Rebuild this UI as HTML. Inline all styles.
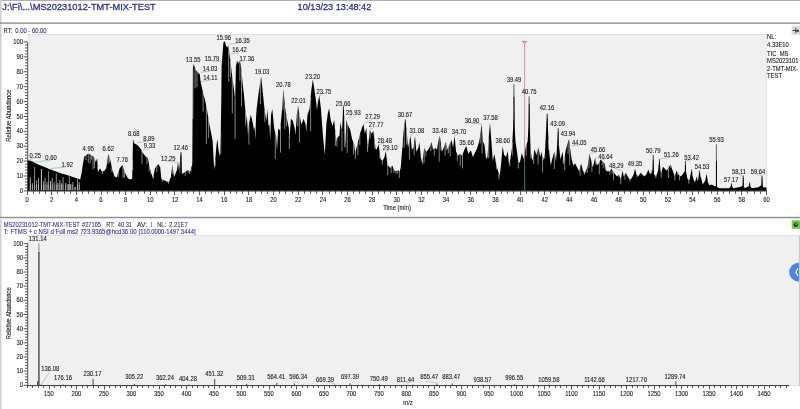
<!DOCTYPE html>
<html><head><meta charset="utf-8"><title>Chromatogram</title>
<style>html,body{margin:0;padding:0;background:#fff;width:800px;height:409px;overflow:hidden}svg{display:block}</style>
</head><body>
<svg width="800" height="409" viewBox="0 0 800 409">
<rect x="0" y="0" width="800" height="409" fill="#fff"/>
<rect x="0" y="0" width="800" height="0.9" fill="#a8a8a8"/>
<rect x="0" y="0" width="1.5" height="409" fill="#cfcfcf"/>
<rect x="0" y="22.4" width="800" height="1.4" fill="#8f8f8f"/>
<rect x="0" y="216.8" width="800" height="1.4" fill="#8f8f8f"/>
<rect x="0" y="218.2" width="800" height="1" fill="#e4e4e4"/>
<text x="2.3" y="10" font-size="9.6" textLength="153.5" lengthAdjust="spacingAndGlyphs" fill="#30309a" stroke="#30309a" stroke-width="0.3" font-family="'Liberation Sans', Arial, sans-serif">J:\Fi\...\MS20231012-TMT-MIX-TEST</text>
<text x="297.6" y="10" font-size="9.6" textLength="73.7" lengthAdjust="spacingAndGlyphs" fill="#30309a" stroke="#30309a" stroke-width="0.3" font-family="'Liberation Sans', Arial, sans-serif">10/13/23 13:48:42</text>
<text transform="translate(3.60,32.60) scale(0.93,1)" font-size="6.3" fill="#1a1a1a" font-family="'Liberation Sans', Arial, sans-serif" stroke="#1a1a1a" stroke-width="0.1">RT:</text>
<text transform="translate(15.30,32.60) scale(0.93,1)" font-size="6.3" fill="#30309a" font-family="'Liberation Sans', Arial, sans-serif" stroke="#30309a" stroke-width="0.1">0.00 - 60.00</text>
<rect x="28.2" y="34.4" width="738.6" height="156.4" fill="#f0f0f0" stroke="#dcdcdc" stroke-width="0.8"/>
<path d="M27.1,190.6 L27.2,160.2 L29.7,160.4 L33.1,161.8 L37.1,163.9 L41.2,165.7 L45.2,167.3 L49.2,169.0 L53.3,170.6 L57.3,172.0 L61.3,173.4 L65.4,174.6 L69.4,175.8 L73.5,177.2 L77.5,178.6 L80.2,179.5 L81.5,173.6 L82.9,164.2 L84.2,156.8 L87.5,154.1 L88.5,153.5 L90.6,154.7 L93.7,156.8 L95.8,162.0 L97.2,158.2 L97.9,172.4 L100.0,168.2 L101.6,171.3 L104.1,171.3 L106.2,168.2 L108.3,153.7 L110.3,159.9 L112.4,170.3 L114.5,176.5 L116.6,177.6 L119.7,168.2 L122.4,165.1 L124.9,172.4 L128.0,178.6 L130.7,179.6 L132.2,178.6 L133.0,139.1 L134.2,143.3 L137.4,144.9 L140.5,148.5 L142.6,152.6 L145.7,156.8 L147.8,157.8 L149.8,168.2 L153.0,178.6 L155.0,168.2 L158.2,164.0 L160.2,167.2 L161.3,178.6 L163.0,180.1 L169.0,182.1 L171.0,176.1 L172.4,165.1 L174.0,177.1 L177.0,170.1 L178.0,161.7 L179.0,170.0 L181.0,152.1 L182.0,174.1 L185.0,172.1 L188.0,170.1 L190.0,172.0 L192.3,164.1 L192.8,70.0 L193.6,64.0 L194.8,67.3 L195.8,70.2 L197.1,71.2 L198.3,73.2 L199.7,74.1 L200.7,82.0 L202.9,92.3 L204.8,99.0 L206.8,108.4 L209.4,124.5 L212.6,140.6 L213.5,156.8 L214.2,169.7 L215.2,160.0 L216.5,145.0 L217.4,139.0 L218.5,150.0 L219.7,156.8 L220.8,130.0 L221.3,100.0 L221.6,66.6 L223.4,42.4 L224.9,41.3 L226.1,46.0 L227.1,46.8 L228.0,47.0 L228.6,44.6 L229.3,53.4 L230.4,60.0 L231.5,71.0 L233.0,82.0 L234.4,93.0 L235.2,99.6 L235.9,66.6 L237.0,61.1 L238.8,63.3 L239.9,60.0 L241.0,66.6 L242.5,82.0 L244.0,95.2 L245.4,110.6 L245.5,128.0 L246.8,114.8 L248.0,135.0 L248.8,124.6 L250.8,114.8 L252.7,122.6 L254.0,130.0 L254.7,126.5 L255.3,140.0 L256.0,118.0 L256.6,109.0 L258.6,93.3 L261.1,76.6 L262.5,89.4 L264.5,109.0 L266.4,120.7 L267.4,109.0 L268.5,126.0 L269.4,124.6 L270.2,140.0 L271.0,115.0 L272.3,109.0 L274.2,128.5 L276.2,136.3 L277.0,150.0 L278.2,128.5 L280.1,130.4 L282.1,109.0 L283.4,89.0 L285.0,107.0 L287.0,118.7 L288.9,128.5 L289.5,140.0 L290.9,118.7 L292.8,120.7 L294.8,128.5 L295.5,135.0 L296.8,114.8 L298.1,105.4 L299.7,116.8 L301.6,124.6 L303.6,118.7 L305.6,124.6 L306.2,132.0 L307.5,114.8 L309.5,109.0 L311.4,89.4 L312.8,79.6 L314.4,89.4 L316.3,103.0 L316.9,110.0 L317.9,102.4 L319.3,95.5 L320.9,108.3 L322.8,133.7 L324.8,155.0 L326.4,123.9 L327.7,114.1 L329.1,108.3 L330.7,120.0 L332.6,125.9 L334.2,120.0 L335.5,133.7 L336.5,141.4 L337.5,137.6 L339.5,135.7 L340.4,122.0 L342.0,131.8 L343.4,106.3 L344.4,118.0 L345.3,150.0 L346.3,120.0 L348.3,125.9 L350.2,129.8 L352.2,139.6 L354.1,143.5 L355.1,153.1 L356.1,149.4 L358.1,141.5 L360.0,133.7 L362.0,127.8 L363.5,123.9 L364.9,133.7 L366.3,127.8 L367.8,150.0 L369.8,129.8 L371.8,133.7 L373.3,130.8 L374.7,141.5 L375.7,149.2 L376.6,149.4 L378.6,144.5 L380.6,159.0 L382.5,160.9 L384.5,157.0 L385.8,151.1 L387.4,164.8 L390.3,168.0 L392.3,165.4 L393.9,170.0 L395.9,171.3 L397.8,170.3 L399.8,171.3 L400.8,167.4 L402.1,149.8 L403.7,130.2 L405.3,119.5 L406.6,130.2 L408.0,147.8 L409.6,140.0 L410.5,136.1 L411.9,149.8 L413.5,147.8 L415.0,136.1 L416.4,151.8 L418.4,147.8 L419.4,142.0 L420.9,157.6 L422.3,163.5 L424.2,147.8 L426.2,151.8 L428.2,149.8 L430.1,145.9 L431.5,142.0 L433.1,149.8 L435.0,147.8 L437.0,149.8 L438.5,140.0 L439.9,136.1 L441.9,151.8 L443.8,147.8 L445.8,142.0 L447.7,149.8 L449.7,144.0 L451.6,140.0 L453.0,147.8 L454.6,136.1 L456.1,151.8 L458.1,155.7 L460.1,153.7 L462.0,155.7 L464.4,149.8 L466.3,145.9 L468.3,153.7 L468.9,153.0 L470.9,150.2 L472.8,157.0 L474.8,153.0 L476.7,149.2 L478.7,143.3 L480.3,135.5 L481.6,123.7 L483.0,141.4 L484.6,145.3 L486.1,159.0 L487.5,157.0 L488.9,135.5 L490.0,122.8 L491.4,141.4 L492.8,160.9 L494.4,154.0 L495.9,162.9 L497.9,170.7 L499.8,175.6 L501.2,162.9 L502.6,146.2 L504.1,155.0 L506.1,157.0 L507.7,151.1 L509.0,164.8 L510.4,159.0 L512.0,147.2 L513.3,125.0 L513.9,83.5 L514.5,125.0 L515.5,141.4 L516.9,151.0 L518.2,160.9 L519.8,162.9 L521.8,153.1 L523.7,159.0 L525.7,147.2 L527.6,141.4 L528.7,125.0 L529.2,96.2 L529.8,125.0 L530.6,151.1 L532.5,160.9 L534.5,149.2 L536.4,155.0 L538.4,147.2 L540.3,157.0 L541.6,151.8 L542.9,161.0 L544.9,153.7 L545.9,134.1 L547.2,113.6 L548.2,134.1 L549.4,153.7 L550.8,165.5 L552.1,159.6 L553.7,153.7 L554.7,151.8 L556.0,161.5 L557.2,143.9 L558.2,128.3 L559.2,147.8 L560.5,159.6 L562.5,151.8 L563.9,163.5 L565.4,151.8 L567.4,143.9 L569.0,139.0 L570.3,149.8 L571.7,159.6 L573.3,165.5 L575.2,163.5 L577.2,167.4 L579.1,171.3 L581.1,163.5 L583.1,171.3 L585.0,173.3 L587.9,165.5 L589.3,153.7 L590.9,159.6 L592.8,167.4 L595.2,157.6 L596.8,165.5 L598.7,163.5 L600.7,159.6 L602.6,161.5 L604.6,163.5 L606.5,171.3 L609.5,171.3 L611.4,168.4 L614.4,173.3 L617.0,176.6 L618.9,174.6 L620.9,179.5 L622.4,170.7 L623.8,176.6 L625.8,172.7 L627.7,176.6 L629.7,179.5 L631.6,178.5 L633.6,174.6 L635.0,168.8 L636.5,174.6 L638.5,176.6 L640.4,172.7 L642.4,174.6 L644.4,176.6 L646.3,174.6 L648.3,169.7 L650.2,174.6 L651.8,170.7 L652.6,170.0 L653.2,155.0 L653.8,170.0 L654.1,174.6 L656.1,176.6 L658.1,170.7 L659.4,159.0 L661.0,174.6 L662.9,166.8 L664.9,168.8 L666.9,170.7 L668.8,166.8 L670.8,164.8 L672.7,170.7 L674.7,176.6 L676.6,170.7 L678.6,174.6 L680.6,176.6 L682.5,174.6 L684.9,171.0 L685.4,160.9 L685.9,171.0 L687.4,178.5 L689.4,180.5 L691.7,168.8 L693.3,178.5 L694.9,182.4 L696.8,176.6 L698.2,180.5 L699.4,170.7 L700.8,176.6 L702.7,184.4 L705.3,180.5 L706.6,173.6 L708.0,182.4 L709.6,185.4 L711.5,184.4 L713.5,185.4 L715.4,186.4 L716.0,186.0 L716.4,144.3 L716.8,186.0 L717.4,187.3 L719.4,188.3 L729.1,188.3 L731.0,186.0 L731.5,183.4 L732.0,186.0 L733.1,188.3 L738.9,187.3 L742.7,186.0 L743.2,175.6 L743.7,186.0 L744.8,188.3 L749.2,186.0 L749.7,182.4 L750.2,186.0 L751.6,188.3 L758.5,187.3 L761.5,185.0 L762.0,175.6 L762.5,185.0 L763.4,187.3 L766.5,187.5 L766.5,190.6 Z" fill="#000"/>
<rect x="29.8" y="177.6" width="1" height="12.8" fill="#b0b0b0"/>
<rect x="29.8" y="184.5" width="1" height="5.9" fill="#f4f4f4" opacity="0.35"/>
<rect x="31.9" y="183.0" width="1" height="7.4" fill="#7a7a7a"/>
<rect x="31.9" y="184.5" width="1" height="5.9" fill="#f4f4f4" opacity="0.35"/>
<rect x="34.1" y="167.0" width="1" height="23.4" fill="#8a8a8a"/>
<rect x="34.1" y="184.5" width="1" height="5.9" fill="#f4f4f4" opacity="0.35"/>
<rect x="36.0" y="180.0" width="1" height="10.4" fill="#7a7a7a"/>
<rect x="36.0" y="184.5" width="1" height="5.9" fill="#f4f4f4" opacity="0.35"/>
<rect x="38.0" y="178.0" width="1" height="12.4" fill="#9a9a9a"/>
<rect x="38.0" y="184.5" width="1" height="5.9" fill="#f4f4f4" opacity="0.35"/>
<rect x="40.9" y="169.0" width="1" height="21.4" fill="#c8c8c8"/>
<rect x="40.9" y="184.5" width="1" height="5.9" fill="#f4f4f4" opacity="0.35"/>
<rect x="43.0" y="181.0" width="1" height="9.4" fill="#7a7a7a"/>
<rect x="43.0" y="184.5" width="1" height="5.9" fill="#f4f4f4" opacity="0.35"/>
<rect x="44.5" y="178.0" width="1" height="12.4" fill="#9a9a9a"/>
<rect x="44.5" y="184.5" width="1" height="5.9" fill="#f4f4f4" opacity="0.35"/>
<rect x="46.5" y="182.0" width="1" height="8.4" fill="#8a8a8a"/>
<rect x="46.5" y="184.5" width="1" height="5.9" fill="#f4f4f4" opacity="0.35"/>
<rect x="48.1" y="171.3" width="1" height="19.1" fill="#8a8a8a"/>
<rect x="48.1" y="184.5" width="1" height="5.9" fill="#f4f4f4" opacity="0.35"/>
<rect x="50.0" y="181.0" width="1" height="9.4" fill="#a8a8a8"/>
<rect x="50.0" y="184.5" width="1" height="5.9" fill="#f4f4f4" opacity="0.35"/>
<rect x="51.7" y="178.0" width="1" height="12.4" fill="#9a9a9a"/>
<rect x="51.7" y="184.5" width="1" height="5.9" fill="#f4f4f4" opacity="0.35"/>
<rect x="53.7" y="182.0" width="1" height="8.4" fill="#7a7a7a"/>
<rect x="53.7" y="184.5" width="1" height="5.9" fill="#f4f4f4" opacity="0.35"/>
<rect x="55.8" y="173.3" width="1" height="17.1" fill="#8a8a8a"/>
<rect x="55.8" y="184.5" width="1" height="5.9" fill="#f4f4f4" opacity="0.35"/>
<rect x="57.4" y="183.0" width="1" height="7.4" fill="#9a9a9a"/>
<rect x="57.4" y="184.5" width="1" height="5.9" fill="#f4f4f4" opacity="0.35"/>
<rect x="59.4" y="180.0" width="1" height="10.4" fill="#a8a8a8"/>
<rect x="59.4" y="184.5" width="1" height="5.9" fill="#f4f4f4" opacity="0.35"/>
<rect x="61.0" y="183.0" width="1" height="7.4" fill="#7a7a7a"/>
<rect x="61.0" y="184.5" width="1" height="5.9" fill="#f4f4f4" opacity="0.35"/>
<rect x="62.5" y="177.0" width="1" height="13.4" fill="#9a9a9a"/>
<rect x="62.5" y="184.5" width="1" height="5.9" fill="#f4f4f4" opacity="0.35"/>
<rect x="65.2" y="183.0" width="1" height="7.4" fill="#b0b0b0"/>
<rect x="65.2" y="184.5" width="1" height="5.9" fill="#f4f4f4" opacity="0.35"/>
<rect x="67.6" y="184.0" width="1" height="6.4" fill="#c0c0c0"/>
<rect x="67.6" y="184.5" width="1" height="5.9" fill="#f4f4f4" opacity="0.35"/>
<rect x="68.8" y="176.0" width="1" height="14.4" fill="#8a8a8a"/>
<rect x="68.8" y="184.5" width="1" height="5.9" fill="#f4f4f4" opacity="0.35"/>
<rect x="70.3" y="184.0" width="1" height="6.4" fill="#9a9a9a"/>
<rect x="70.3" y="184.5" width="1" height="5.9" fill="#f4f4f4" opacity="0.35"/>
<rect x="72.3" y="182.0" width="1" height="8.4" fill="#8a8a8a"/>
<rect x="72.3" y="184.5" width="1" height="5.9" fill="#f4f4f4" opacity="0.35"/>
<rect x="74.6" y="187.0" width="1" height="3.4" fill="#c0c0c0"/>
<rect x="74.6" y="187.0" width="1" height="3.4" fill="#f4f4f4" opacity="0.35"/>
<rect x="77.0" y="178.0" width="1" height="12.4" fill="#8a8a8a"/>
<rect x="77.0" y="184.5" width="1" height="5.9" fill="#f4f4f4" opacity="0.35"/>
<rect x="78.7" y="182.0" width="1" height="8.4" fill="#9a9a9a"/>
<rect x="78.7" y="184.5" width="1" height="5.9" fill="#f4f4f4" opacity="0.35"/>
<line x1="86.0" y1="154.8" x2="86.0" y2="160.3" stroke="#f0f0f0" stroke-width="0.55"/>
<line x1="88.3" y1="153.1" x2="88.3" y2="163.1" stroke="#f0f0f0" stroke-width="0.55"/>
<line x1="90.2" y1="154.0" x2="90.2" y2="163.4" stroke="#f0f0f0" stroke-width="0.55"/>
<line x1="91.6" y1="154.9" x2="91.6" y2="159.8" stroke="#f0f0f0" stroke-width="0.55"/>
<line x1="93.0" y1="155.8" x2="93.0" y2="169.5" stroke="#f0f0f0" stroke-width="0.55"/>
<line x1="94.5" y1="158.4" x2="94.5" y2="168.2" stroke="#f0f0f0" stroke-width="0.55"/>
<line x1="102.4" y1="170.8" x2="102.4" y2="173.9" stroke="#f0f0f0" stroke-width="0.55"/>
<line x1="108.1" y1="154.4" x2="108.1" y2="164.3" stroke="#f0f0f0" stroke-width="0.55"/>
<line x1="109.5" y1="157.0" x2="109.5" y2="162.6" stroke="#f0f0f0" stroke-width="0.55"/>
<line x1="111.9" y1="167.4" x2="111.9" y2="172.0" stroke="#f0f0f0" stroke-width="0.55"/>
<line x1="118.3" y1="171.8" x2="118.3" y2="177.3" stroke="#f0f0f0" stroke-width="0.55"/>
<line x1="123.0" y1="166.2" x2="123.0" y2="177.7" stroke="#f0f0f0" stroke-width="0.55"/>
<line x1="124.4" y1="170.6" x2="124.4" y2="177.9" stroke="#f0f0f0" stroke-width="0.55"/>
<line x1="132.6" y1="159.6" x2="132.6" y2="170.0" stroke="#f0f0f0" stroke-width="0.55"/>
<line x1="142.0" y1="151.0" x2="142.0" y2="164.2" stroke="#f0f0f0" stroke-width="0.55"/>
<line x1="147.0" y1="156.9" x2="147.0" y2="164.2" stroke="#f0f0f0" stroke-width="0.55"/>
<line x1="149.3" y1="165.4" x2="149.3" y2="171.5" stroke="#f0f0f0" stroke-width="0.55"/>
<line x1="150.9" y1="171.3" x2="150.9" y2="174.2" stroke="#f0f0f0" stroke-width="0.55"/>
<line x1="153.4" y1="175.8" x2="153.4" y2="178.6" stroke="#f0f0f0" stroke-width="0.55"/>
<line x1="156.8" y1="165.3" x2="156.8" y2="172.3" stroke="#f0f0f0" stroke-width="0.55"/>
<line x1="162.2" y1="178.9" x2="162.2" y2="181.8" stroke="#f0f0f0" stroke-width="0.55"/>
<line x1="166.9" y1="180.9" x2="166.9" y2="182.7" stroke="#f0f0f0" stroke-width="0.55"/>
<line x1="168.6" y1="181.5" x2="168.6" y2="184.0" stroke="#f0f0f0" stroke-width="0.55"/>
<line x1="170.8" y1="176.1" x2="170.8" y2="178.3" stroke="#f0f0f0" stroke-width="0.55"/>
<line x1="172.8" y1="167.5" x2="172.8" y2="174.1" stroke="#f0f0f0" stroke-width="0.55"/>
<line x1="180.1" y1="159.5" x2="180.1" y2="172.8" stroke="#f0f0f0" stroke-width="0.55"/>
<line x1="185.2" y1="171.4" x2="185.2" y2="175.8" stroke="#f0f0f0" stroke-width="0.55"/>
<line x1="188.1" y1="169.7" x2="188.1" y2="173.3" stroke="#f0f0f0" stroke-width="0.55"/>
<line x1="189.7" y1="171.2" x2="189.7" y2="174.0" stroke="#f0f0f0" stroke-width="0.55"/>
<line x1="191.0" y1="168.2" x2="191.0" y2="171.5" stroke="#f0f0f0" stroke-width="0.55"/>
<line x1="192.9" y1="69.1" x2="192.9" y2="118.8" stroke="#f0f0f0" stroke-width="0.55"/>
<line x1="195.1" y1="67.8" x2="195.1" y2="88.4" stroke="#f0f0f0" stroke-width="0.55"/>
<line x1="197.0" y1="70.6" x2="197.0" y2="87.3" stroke="#f0f0f0" stroke-width="0.55"/>
<line x1="203.1" y1="92.6" x2="203.1" y2="111.7" stroke="#f0f0f0" stroke-width="0.55"/>
<line x1="206.4" y1="106.1" x2="206.4" y2="143.9" stroke="#f0f0f0" stroke-width="0.55"/>
<line x1="208.6" y1="118.8" x2="208.6" y2="137.8" stroke="#f0f0f0" stroke-width="0.55"/>
<line x1="215.2" y1="159.7" x2="215.2" y2="166.2" stroke="#f0f0f0" stroke-width="0.55"/>
<line x1="220.7" y1="131.3" x2="220.7" y2="153.9" stroke="#f0f0f0" stroke-width="0.55"/>
<line x1="228.7" y1="45.1" x2="228.7" y2="81.9" stroke="#f0f0f0" stroke-width="0.55"/>
<line x1="230.5" y1="61.0" x2="230.5" y2="77.2" stroke="#f0f0f0" stroke-width="0.55"/>
<line x1="232.3" y1="76.3" x2="232.3" y2="113.4" stroke="#f0f0f0" stroke-width="0.55"/>
<line x1="235.1" y1="98.5" x2="235.1" y2="139.1" stroke="#f0f0f0" stroke-width="0.55"/>
<line x1="239.9" y1="59.5" x2="239.9" y2="80.6" stroke="#f0f0f0" stroke-width="0.55"/>
<line x1="241.5" y1="71.3" x2="241.5" y2="106.5" stroke="#f0f0f0" stroke-width="0.55"/>
<line x1="248.9" y1="123.7" x2="248.9" y2="144.6" stroke="#f0f0f0" stroke-width="0.55"/>
<line x1="260.4" y1="80.7" x2="260.4" y2="104.0" stroke="#f0f0f0" stroke-width="0.55"/>
<line x1="264.8" y1="110.4" x2="264.8" y2="122.1" stroke="#f0f0f0" stroke-width="0.55"/>
<line x1="275.3" y1="132.4" x2="275.3" y2="159.1" stroke="#f0f0f0" stroke-width="0.55"/>
<line x1="280.5" y1="126.1" x2="280.5" y2="152.5" stroke="#f0f0f0" stroke-width="0.55"/>
<line x1="283.1" y1="93.4" x2="283.1" y2="109.8" stroke="#f0f0f0" stroke-width="0.55"/>
<line x1="284.8" y1="104.8" x2="284.8" y2="128.9" stroke="#f0f0f0" stroke-width="0.55"/>
<line x1="286.6" y1="115.6" x2="286.6" y2="126.3" stroke="#f0f0f0" stroke-width="0.55"/>
<line x1="289.3" y1="136.1" x2="289.3" y2="148.9" stroke="#f0f0f0" stroke-width="0.55"/>
<line x1="297.8" y1="107.3" x2="297.8" y2="126.2" stroke="#f0f0f0" stroke-width="0.55"/>
<line x1="299.4" y1="113.9" x2="299.4" y2="142.6" stroke="#f0f0f0" stroke-width="0.55"/>
<line x1="310.6" y1="97.4" x2="310.6" y2="131.1" stroke="#f0f0f0" stroke-width="0.55"/>
<line x1="335.4" y1="132.5" x2="335.4" y2="145.8" stroke="#f0f0f0" stroke-width="0.55"/>
<line x1="336.9" y1="139.6" x2="336.9" y2="146.5" stroke="#f0f0f0" stroke-width="0.55"/>
<line x1="342.0" y1="131.0" x2="342.0" y2="151.2" stroke="#f0f0f0" stroke-width="0.55"/>
<line x1="344.3" y1="116.5" x2="344.3" y2="147.2" stroke="#f0f0f0" stroke-width="0.55"/>
<line x1="347.2" y1="122.0" x2="347.2" y2="152.9" stroke="#f0f0f0" stroke-width="0.55"/>
<line x1="353.5" y1="141.9" x2="353.5" y2="154.4" stroke="#f0f0f0" stroke-width="0.55"/>
<line x1="355.4" y1="151.6" x2="355.4" y2="159.1" stroke="#f0f0f0" stroke-width="0.55"/>
<line x1="357.8" y1="142.0" x2="357.8" y2="155.2" stroke="#f0f0f0" stroke-width="0.55"/>
<line x1="359.8" y1="133.8" x2="359.8" y2="144.9" stroke="#f0f0f0" stroke-width="0.55"/>
<line x1="367.6" y1="146.1" x2="367.6" y2="152.0" stroke="#f0f0f0" stroke-width="0.55"/>
<line x1="370.1" y1="129.9" x2="370.1" y2="138.6" stroke="#f0f0f0" stroke-width="0.55"/>
<line x1="374.7" y1="141.0" x2="374.7" y2="148.4" stroke="#f0f0f0" stroke-width="0.55"/>
<line x1="379.9" y1="153.4" x2="379.9" y2="158.5" stroke="#f0f0f0" stroke-width="0.55"/>
<line x1="382.3" y1="160.2" x2="382.3" y2="164.5" stroke="#f0f0f0" stroke-width="0.55"/>
<line x1="387.7" y1="164.6" x2="387.7" y2="175.2" stroke="#f0f0f0" stroke-width="0.55"/>
<line x1="391.1" y1="166.4" x2="391.1" y2="173.2" stroke="#f0f0f0" stroke-width="0.55"/>
<line x1="393.9" y1="169.5" x2="393.9" y2="172.8" stroke="#f0f0f0" stroke-width="0.55"/>
<line x1="396.0" y1="170.7" x2="396.0" y2="173.8" stroke="#f0f0f0" stroke-width="0.55"/>
<line x1="397.6" y1="169.9" x2="397.6" y2="173.5" stroke="#f0f0f0" stroke-width="0.55"/>
<line x1="399.4" y1="170.6" x2="399.4" y2="178.0" stroke="#f0f0f0" stroke-width="0.55"/>
<line x1="402.7" y1="141.4" x2="402.7" y2="147.8" stroke="#f0f0f0" stroke-width="0.55"/>
<line x1="404.4" y1="124.7" x2="404.4" y2="147.4" stroke="#f0f0f0" stroke-width="0.55"/>
<line x1="406.6" y1="130.1" x2="406.6" y2="144.6" stroke="#f0f0f0" stroke-width="0.55"/>
<line x1="409.4" y1="140.4" x2="409.4" y2="159.7" stroke="#f0f0f0" stroke-width="0.55"/>
<line x1="414.1" y1="143.0" x2="414.1" y2="155.1" stroke="#f0f0f0" stroke-width="0.55"/>
<line x1="422.7" y1="159.9" x2="422.7" y2="164.1" stroke="#f0f0f0" stroke-width="0.55"/>
<line x1="424.2" y1="147.4" x2="424.2" y2="162.6" stroke="#f0f0f0" stroke-width="0.55"/>
<line x1="425.9" y1="150.7" x2="425.9" y2="156.3" stroke="#f0f0f0" stroke-width="0.55"/>
<line x1="430.9" y1="143.1" x2="430.9" y2="151.2" stroke="#f0f0f0" stroke-width="0.55"/>
<line x1="434.2" y1="148.1" x2="434.2" y2="155.6" stroke="#f0f0f0" stroke-width="0.55"/>
<line x1="439.2" y1="137.4" x2="439.2" y2="161.7" stroke="#f0f0f0" stroke-width="0.55"/>
<line x1="441.0" y1="144.6" x2="441.0" y2="150.5" stroke="#f0f0f0" stroke-width="0.55"/>
<line x1="445.1" y1="143.6" x2="445.1" y2="155.6" stroke="#f0f0f0" stroke-width="0.55"/>
<line x1="446.4" y1="143.8" x2="446.4" y2="150.3" stroke="#f0f0f0" stroke-width="0.55"/>
<line x1="448.3" y1="147.5" x2="448.3" y2="153.2" stroke="#f0f0f0" stroke-width="0.55"/>
<line x1="450.1" y1="142.7" x2="450.1" y2="156.3" stroke="#f0f0f0" stroke-width="0.55"/>
<line x1="457.3" y1="153.6" x2="457.3" y2="160.9" stroke="#f0f0f0" stroke-width="0.55"/>
<line x1="460.2" y1="153.3" x2="460.2" y2="166.1" stroke="#f0f0f0" stroke-width="0.55"/>
<line x1="462.5" y1="154.0" x2="462.5" y2="168.5" stroke="#f0f0f0" stroke-width="0.55"/>
<line x1="480.2" y1="135.4" x2="480.2" y2="143.4" stroke="#f0f0f0" stroke-width="0.55"/>
<line x1="482.1" y1="129.4" x2="482.1" y2="153.4" stroke="#f0f0f0" stroke-width="0.55"/>
<line x1="488.7" y1="138.5" x2="488.7" y2="158.1" stroke="#f0f0f0" stroke-width="0.55"/>
<line x1="496.4" y1="164.5" x2="496.4" y2="169.3" stroke="#f0f0f0" stroke-width="0.55"/>
<line x1="498.9" y1="172.8" x2="498.9" y2="179.2" stroke="#f0f0f0" stroke-width="0.55"/>
<line x1="509.8" y1="161.1" x2="509.8" y2="166.4" stroke="#f0f0f0" stroke-width="0.55"/>
<line x1="512.3" y1="142.1" x2="512.3" y2="155.5" stroke="#f0f0f0" stroke-width="0.55"/>
<line x1="513.6" y1="104.5" x2="513.6" y2="119.4" stroke="#f0f0f0" stroke-width="0.55"/>
<line x1="518.3" y1="160.6" x2="518.3" y2="168.5" stroke="#f0f0f0" stroke-width="0.55"/>
<line x1="526.3" y1="144.9" x2="526.3" y2="155.7" stroke="#f0f0f0" stroke-width="0.55"/>
<line x1="530.9" y1="152.3" x2="530.9" y2="158.6" stroke="#f0f0f0" stroke-width="0.55"/>
<line x1="533.7" y1="153.1" x2="533.7" y2="163.8" stroke="#f0f0f0" stroke-width="0.55"/>
<line x1="538.1" y1="147.9" x2="538.1" y2="164.4" stroke="#f0f0f0" stroke-width="0.55"/>
<line x1="542.6" y1="158.6" x2="542.6" y2="172.3" stroke="#f0f0f0" stroke-width="0.55"/>
<line x1="544.7" y1="153.9" x2="544.7" y2="158.7" stroke="#f0f0f0" stroke-width="0.55"/>
<line x1="548.6" y1="139.8" x2="548.6" y2="149.9" stroke="#f0f0f0" stroke-width="0.55"/>
<line x1="554.3" y1="152.0" x2="554.3" y2="169.0" stroke="#f0f0f0" stroke-width="0.55"/>
<line x1="558.5" y1="134.3" x2="558.5" y2="146.3" stroke="#f0f0f0" stroke-width="0.55"/>
<line x1="563.3" y1="158.1" x2="563.3" y2="164.0" stroke="#f0f0f0" stroke-width="0.55"/>
<line x1="564.7" y1="156.9" x2="564.7" y2="170.2" stroke="#f0f0f0" stroke-width="0.55"/>
<line x1="568.1" y1="141.1" x2="568.1" y2="153.8" stroke="#f0f0f0" stroke-width="0.55"/>
<line x1="569.7" y1="144.7" x2="569.7" y2="165.5" stroke="#f0f0f0" stroke-width="0.55"/>
<line x1="580.0" y1="167.2" x2="580.0" y2="175.5" stroke="#f0f0f0" stroke-width="0.55"/>
<line x1="584.4" y1="172.1" x2="584.4" y2="174.9" stroke="#f0f0f0" stroke-width="0.55"/>
<line x1="587.2" y1="167.0" x2="587.2" y2="172.9" stroke="#f0f0f0" stroke-width="0.55"/>
<line x1="589.0" y1="155.6" x2="589.0" y2="167.9" stroke="#f0f0f0" stroke-width="0.55"/>
<line x1="591.9" y1="163.1" x2="591.9" y2="171.9" stroke="#f0f0f0" stroke-width="0.55"/>
<line x1="595.6" y1="159.0" x2="595.6" y2="163.9" stroke="#f0f0f0" stroke-width="0.55"/>
<line x1="599.3" y1="161.8" x2="599.3" y2="174.2" stroke="#f0f0f0" stroke-width="0.55"/>
<line x1="602.2" y1="160.6" x2="602.2" y2="165.2" stroke="#f0f0f0" stroke-width="0.55"/>
<line x1="603.8" y1="162.2" x2="603.8" y2="168.0" stroke="#f0f0f0" stroke-width="0.55"/>
<line x1="605.3" y1="165.7" x2="605.3" y2="170.3" stroke="#f0f0f0" stroke-width="0.55"/>
<line x1="610.0" y1="170.1" x2="610.0" y2="174.8" stroke="#f0f0f0" stroke-width="0.55"/>
<line x1="612.1" y1="169.1" x2="612.1" y2="173.5" stroke="#f0f0f0" stroke-width="0.55"/>
<line x1="613.5" y1="171.3" x2="613.5" y2="180.3" stroke="#f0f0f0" stroke-width="0.55"/>
<line x1="619.0" y1="174.3" x2="619.0" y2="177.3" stroke="#f0f0f0" stroke-width="0.55"/>
<line x1="620.9" y1="179.0" x2="620.9" y2="184.4" stroke="#f0f0f0" stroke-width="0.55"/>
<line x1="624.9" y1="174.0" x2="624.9" y2="179.8" stroke="#f0f0f0" stroke-width="0.55"/>
<line x1="629.9" y1="178.9" x2="629.9" y2="181.7" stroke="#f0f0f0" stroke-width="0.55"/>
<line x1="637.0" y1="174.6" x2="637.0" y2="177.3" stroke="#f0f0f0" stroke-width="0.55"/>
<line x1="651.7" y1="170.5" x2="651.7" y2="173.6" stroke="#f0f0f0" stroke-width="0.55"/>
<line x1="655.8" y1="175.8" x2="655.8" y2="178.1" stroke="#f0f0f0" stroke-width="0.55"/>
<line x1="659.9" y1="163.2" x2="659.9" y2="171.3" stroke="#f0f0f0" stroke-width="0.55"/>
<line x1="661.2" y1="173.3" x2="661.2" y2="177.7" stroke="#f0f0f0" stroke-width="0.55"/>
<line x1="668.4" y1="167.1" x2="668.4" y2="177.9" stroke="#f0f0f0" stroke-width="0.55"/>
<line x1="670.8" y1="164.4" x2="670.8" y2="168.1" stroke="#f0f0f0" stroke-width="0.55"/>
<line x1="674.9" y1="175.4" x2="674.9" y2="180.5" stroke="#f0f0f0" stroke-width="0.55"/>
<line x1="677.7" y1="172.3" x2="677.7" y2="175.0" stroke="#f0f0f0" stroke-width="0.55"/>
<line x1="679.5" y1="175.0" x2="679.5" y2="180.3" stroke="#f0f0f0" stroke-width="0.55"/>
<line x1="688.7" y1="179.3" x2="688.7" y2="183.6" stroke="#f0f0f0" stroke-width="0.55"/>
<line x1="692.6" y1="173.7" x2="692.6" y2="176.8" stroke="#f0f0f0" stroke-width="0.55"/>
<line x1="697.4" y1="177.7" x2="697.4" y2="180.8" stroke="#f0f0f0" stroke-width="0.55"/>
<line x1="700.6" y1="175.0" x2="700.6" y2="177.4" stroke="#f0f0f0" stroke-width="0.55"/>
<line x1="762.1" y1="177.8" x2="762.1" y2="180.9" stroke="#f0f0f0" stroke-width="0.55"/>
<line x1="514.0" y1="84.2" x2="514.0" y2="97" stroke="#666" stroke-width="1"/>
<line x1="514.0" y1="97" x2="514.0" y2="190" stroke="#000" stroke-width="1"/>
<line x1="529.1" y1="96.4" x2="529.1" y2="104" stroke="#555" stroke-width="1"/>
<line x1="529.1" y1="104" x2="529.1" y2="190" stroke="#000" stroke-width="1"/>
<line x1="716.4" y1="144.3" x2="716.4" y2="161" stroke="#666" stroke-width="1"/>
<line x1="716.4" y1="161" x2="716.4" y2="190" stroke="#000" stroke-width="1"/>
<line x1="653.2" y1="155" x2="653.2" y2="160" stroke="#444" stroke-width="1"/>
<line x1="653.2" y1="160" x2="653.2" y2="190" stroke="#000" stroke-width="1"/>
<line x1="685.4" y1="160.9" x2="685.4" y2="165" stroke="#444" stroke-width="1"/>
<line x1="685.4" y1="165" x2="685.4" y2="190" stroke="#000" stroke-width="1"/>
<line x1="743.2" y1="175.6" x2="743.2" y2="178" stroke="#333" stroke-width="1"/>
<line x1="743.2" y1="178" x2="743.2" y2="190" stroke="#000" stroke-width="1"/>
<line x1="762.0" y1="175.6" x2="762.0" y2="178" stroke="#333" stroke-width="1"/>
<line x1="762.0" y1="178" x2="762.0" y2="190" stroke="#000" stroke-width="1"/>
<line x1="731.5" y1="183.4" x2="731.5" y2="185" stroke="#333" stroke-width="1"/>
<line x1="731.5" y1="185" x2="731.5" y2="190" stroke="#000" stroke-width="1"/>
<line x1="749.7" y1="182.4" x2="749.7" y2="184" stroke="#333" stroke-width="1"/>
<line x1="749.7" y1="184" x2="749.7" y2="190" stroke="#000" stroke-width="1"/>
<line x1="547.2" y1="113.6" x2="547.2" y2="118" stroke="#333" stroke-width="1"/>
<line x1="547.2" y1="118" x2="547.2" y2="190" stroke="#000" stroke-width="1"/>
<line x1="558.2" y1="128.3" x2="558.2" y2="132" stroke="#333" stroke-width="1"/>
<line x1="558.2" y1="132" x2="558.2" y2="190" stroke="#000" stroke-width="1"/>
<line x1="405.3" y1="119.5" x2="405.3" y2="123" stroke="#333" stroke-width="1"/>
<line x1="405.3" y1="123" x2="405.3" y2="190" stroke="#000" stroke-width="1"/>
<line x1="343.4" y1="106.3" x2="343.4" y2="110" stroke="#333" stroke-width="1"/>
<line x1="343.4" y1="110" x2="343.4" y2="190" stroke="#000" stroke-width="1"/>
<line x1="181" y1="152.1" x2="181" y2="155" stroke="#333" stroke-width="1"/>
<line x1="181" y1="155" x2="181" y2="190" stroke="#000" stroke-width="1"/>
<line x1="659.4" y1="159" x2="659.4" y2="162" stroke="#444" stroke-width="1"/>
<line x1="659.4" y1="162" x2="659.4" y2="190" stroke="#000" stroke-width="1"/>
<line x1="699.4" y1="170.7" x2="699.4" y2="173" stroke="#444" stroke-width="1"/>
<line x1="699.4" y1="173" x2="699.4" y2="190" stroke="#000" stroke-width="1"/>
<line x1="524.6" y1="42.5" x2="524.6" y2="162" stroke="#e27080" stroke-width="0.8"/>
<line x1="524.6" y1="162" x2="524.6" y2="190.4" stroke="#2a9a9a" stroke-width="0.8"/>
<path d="M522.4,41.4 L526.8,41.4 L524.6,43.6 Z" fill="#f6dde0" stroke="#e05a6c" stroke-width="0.8"/>
<line x1="27.6" y1="42" x2="27.6" y2="191" stroke="#555" stroke-width="0.9"/>
<line x1="27.2" y1="190.9" x2="767" y2="190.9" stroke="#000" stroke-width="1"/>
<line x1="23.6" y1="190.90" x2="27.6" y2="190.90" stroke="#444" stroke-width="0.9"/>
<text transform="translate(23.10,193.00) scale(0.93,1)" font-size="6.3" text-anchor="end" fill="#1a1a1a" font-family="'Liberation Sans', Arial, sans-serif" stroke="#1a1a1a" stroke-width="0.1">0</text>
<line x1="25.0" y1="187.92" x2="27.6" y2="187.92" stroke="#444" stroke-width="0.9"/>
<line x1="25.0" y1="184.94" x2="27.6" y2="184.94" stroke="#444" stroke-width="0.9"/>
<line x1="25.0" y1="181.97" x2="27.6" y2="181.97" stroke="#444" stroke-width="0.9"/>
<line x1="25.0" y1="178.99" x2="27.6" y2="178.99" stroke="#444" stroke-width="0.9"/>
<line x1="23.6" y1="176.01" x2="27.6" y2="176.01" stroke="#444" stroke-width="0.9"/>
<text transform="translate(23.10,178.10) scale(0.93,1)" font-size="6.3" text-anchor="end" fill="#1a1a1a" font-family="'Liberation Sans', Arial, sans-serif" stroke="#1a1a1a" stroke-width="0.1">10</text>
<line x1="25.0" y1="173.03" x2="27.6" y2="173.03" stroke="#444" stroke-width="0.9"/>
<line x1="25.0" y1="170.05" x2="27.6" y2="170.05" stroke="#444" stroke-width="0.9"/>
<line x1="25.0" y1="167.08" x2="27.6" y2="167.08" stroke="#444" stroke-width="0.9"/>
<line x1="25.0" y1="164.10" x2="27.6" y2="164.10" stroke="#444" stroke-width="0.9"/>
<line x1="23.6" y1="161.12" x2="27.6" y2="161.12" stroke="#444" stroke-width="0.9"/>
<text transform="translate(23.10,163.20) scale(0.93,1)" font-size="6.3" text-anchor="end" fill="#1a1a1a" font-family="'Liberation Sans', Arial, sans-serif" stroke="#1a1a1a" stroke-width="0.1">20</text>
<line x1="25.0" y1="158.14" x2="27.6" y2="158.14" stroke="#444" stroke-width="0.9"/>
<line x1="25.0" y1="155.16" x2="27.6" y2="155.16" stroke="#444" stroke-width="0.9"/>
<line x1="25.0" y1="152.19" x2="27.6" y2="152.19" stroke="#444" stroke-width="0.9"/>
<line x1="25.0" y1="149.21" x2="27.6" y2="149.21" stroke="#444" stroke-width="0.9"/>
<line x1="23.6" y1="146.23" x2="27.6" y2="146.23" stroke="#444" stroke-width="0.9"/>
<text transform="translate(23.10,148.30) scale(0.93,1)" font-size="6.3" text-anchor="end" fill="#1a1a1a" font-family="'Liberation Sans', Arial, sans-serif" stroke="#1a1a1a" stroke-width="0.1">30</text>
<line x1="25.0" y1="143.25" x2="27.6" y2="143.25" stroke="#444" stroke-width="0.9"/>
<line x1="25.0" y1="140.27" x2="27.6" y2="140.27" stroke="#444" stroke-width="0.9"/>
<line x1="25.0" y1="137.30" x2="27.6" y2="137.30" stroke="#444" stroke-width="0.9"/>
<line x1="25.0" y1="134.32" x2="27.6" y2="134.32" stroke="#444" stroke-width="0.9"/>
<line x1="23.6" y1="131.34" x2="27.6" y2="131.34" stroke="#444" stroke-width="0.9"/>
<text transform="translate(23.10,133.40) scale(0.93,1)" font-size="6.3" text-anchor="end" fill="#1a1a1a" font-family="'Liberation Sans', Arial, sans-serif" stroke="#1a1a1a" stroke-width="0.1">40</text>
<line x1="25.0" y1="128.36" x2="27.6" y2="128.36" stroke="#444" stroke-width="0.9"/>
<line x1="25.0" y1="125.38" x2="27.6" y2="125.38" stroke="#444" stroke-width="0.9"/>
<line x1="25.0" y1="122.41" x2="27.6" y2="122.41" stroke="#444" stroke-width="0.9"/>
<line x1="25.0" y1="119.43" x2="27.6" y2="119.43" stroke="#444" stroke-width="0.9"/>
<line x1="23.6" y1="116.45" x2="27.6" y2="116.45" stroke="#444" stroke-width="0.9"/>
<text transform="translate(23.10,118.50) scale(0.93,1)" font-size="6.3" text-anchor="end" fill="#1a1a1a" font-family="'Liberation Sans', Arial, sans-serif" stroke="#1a1a1a" stroke-width="0.1">50</text>
<line x1="25.0" y1="113.47" x2="27.6" y2="113.47" stroke="#444" stroke-width="0.9"/>
<line x1="25.0" y1="110.49" x2="27.6" y2="110.49" stroke="#444" stroke-width="0.9"/>
<line x1="25.0" y1="107.52" x2="27.6" y2="107.52" stroke="#444" stroke-width="0.9"/>
<line x1="25.0" y1="104.54" x2="27.6" y2="104.54" stroke="#444" stroke-width="0.9"/>
<line x1="23.6" y1="101.56" x2="27.6" y2="101.56" stroke="#444" stroke-width="0.9"/>
<text transform="translate(23.10,103.70) scale(0.93,1)" font-size="6.3" text-anchor="end" fill="#1a1a1a" font-family="'Liberation Sans', Arial, sans-serif" stroke="#1a1a1a" stroke-width="0.1">60</text>
<line x1="25.0" y1="98.58" x2="27.6" y2="98.58" stroke="#444" stroke-width="0.9"/>
<line x1="25.0" y1="95.60" x2="27.6" y2="95.60" stroke="#444" stroke-width="0.9"/>
<line x1="25.0" y1="92.63" x2="27.6" y2="92.63" stroke="#444" stroke-width="0.9"/>
<line x1="25.0" y1="89.65" x2="27.6" y2="89.65" stroke="#444" stroke-width="0.9"/>
<line x1="23.6" y1="86.67" x2="27.6" y2="86.67" stroke="#444" stroke-width="0.9"/>
<text transform="translate(23.10,88.80) scale(0.93,1)" font-size="6.3" text-anchor="end" fill="#1a1a1a" font-family="'Liberation Sans', Arial, sans-serif" stroke="#1a1a1a" stroke-width="0.1">70</text>
<line x1="25.0" y1="83.69" x2="27.6" y2="83.69" stroke="#444" stroke-width="0.9"/>
<line x1="25.0" y1="80.71" x2="27.6" y2="80.71" stroke="#444" stroke-width="0.9"/>
<line x1="25.0" y1="77.74" x2="27.6" y2="77.74" stroke="#444" stroke-width="0.9"/>
<line x1="25.0" y1="74.76" x2="27.6" y2="74.76" stroke="#444" stroke-width="0.9"/>
<line x1="23.6" y1="71.78" x2="27.6" y2="71.78" stroke="#444" stroke-width="0.9"/>
<text transform="translate(23.10,73.90) scale(0.93,1)" font-size="6.3" text-anchor="end" fill="#1a1a1a" font-family="'Liberation Sans', Arial, sans-serif" stroke="#1a1a1a" stroke-width="0.1">80</text>
<line x1="25.0" y1="68.80" x2="27.6" y2="68.80" stroke="#444" stroke-width="0.9"/>
<line x1="25.0" y1="65.82" x2="27.6" y2="65.82" stroke="#444" stroke-width="0.9"/>
<line x1="25.0" y1="62.85" x2="27.6" y2="62.85" stroke="#444" stroke-width="0.9"/>
<line x1="25.0" y1="59.87" x2="27.6" y2="59.87" stroke="#444" stroke-width="0.9"/>
<line x1="23.6" y1="56.89" x2="27.6" y2="56.89" stroke="#444" stroke-width="0.9"/>
<text transform="translate(23.10,59.00) scale(0.93,1)" font-size="6.3" text-anchor="end" fill="#1a1a1a" font-family="'Liberation Sans', Arial, sans-serif" stroke="#1a1a1a" stroke-width="0.1">90</text>
<line x1="25.0" y1="53.91" x2="27.6" y2="53.91" stroke="#444" stroke-width="0.9"/>
<line x1="25.0" y1="50.93" x2="27.6" y2="50.93" stroke="#444" stroke-width="0.9"/>
<line x1="25.0" y1="47.96" x2="27.6" y2="47.96" stroke="#444" stroke-width="0.9"/>
<line x1="25.0" y1="44.98" x2="27.6" y2="44.98" stroke="#444" stroke-width="0.9"/>
<line x1="23.6" y1="42.00" x2="27.6" y2="42.00" stroke="#444" stroke-width="0.9"/>
<text transform="translate(23.10,44.10) scale(0.93,1)" font-size="6.3" text-anchor="end" fill="#1a1a1a" font-family="'Liberation Sans', Arial, sans-serif" stroke="#1a1a1a" stroke-width="0.1">100</text>
<line x1="27.5" y1="191" x2="27.5" y2="195.0" stroke="#444" stroke-width="0.9"/>
<text transform="translate(27.10,202.10) scale(0.93,1)" font-size="6.3" text-anchor="middle" fill="#1a1a1a" font-family="'Liberation Sans', Arial, sans-serif" stroke="#1a1a1a" stroke-width="0.1">0</text>
<line x1="33.5" y1="191" x2="33.5" y2="193.8" stroke="#444" stroke-width="0.9"/>
<line x1="39.5" y1="191" x2="39.5" y2="193.8" stroke="#444" stroke-width="0.9"/>
<line x1="45.5" y1="191" x2="45.5" y2="193.8" stroke="#444" stroke-width="0.9"/>
<line x1="51.5" y1="191" x2="51.5" y2="195.0" stroke="#444" stroke-width="0.9"/>
<text transform="translate(51.70,202.10) scale(0.93,1)" font-size="6.3" text-anchor="middle" fill="#1a1a1a" font-family="'Liberation Sans', Arial, sans-serif" stroke="#1a1a1a" stroke-width="0.1">2</text>
<line x1="57.5" y1="191" x2="57.5" y2="193.8" stroke="#444" stroke-width="0.9"/>
<line x1="64.5" y1="191" x2="64.5" y2="193.8" stroke="#444" stroke-width="0.9"/>
<line x1="70.5" y1="191" x2="70.5" y2="193.8" stroke="#444" stroke-width="0.9"/>
<line x1="76.5" y1="191" x2="76.5" y2="195.0" stroke="#444" stroke-width="0.9"/>
<text transform="translate(76.40,202.10) scale(0.93,1)" font-size="6.3" text-anchor="middle" fill="#1a1a1a" font-family="'Liberation Sans', Arial, sans-serif" stroke="#1a1a1a" stroke-width="0.1">4</text>
<line x1="82.5" y1="191" x2="82.5" y2="193.8" stroke="#444" stroke-width="0.9"/>
<line x1="88.5" y1="191" x2="88.5" y2="193.8" stroke="#444" stroke-width="0.9"/>
<line x1="94.5" y1="191" x2="94.5" y2="193.8" stroke="#444" stroke-width="0.9"/>
<line x1="101.5" y1="191" x2="101.5" y2="195.0" stroke="#444" stroke-width="0.9"/>
<text transform="translate(101.00,202.10) scale(0.93,1)" font-size="6.3" text-anchor="middle" fill="#1a1a1a" font-family="'Liberation Sans', Arial, sans-serif" stroke="#1a1a1a" stroke-width="0.1">6</text>
<line x1="107.5" y1="191" x2="107.5" y2="193.8" stroke="#444" stroke-width="0.9"/>
<line x1="113.5" y1="191" x2="113.5" y2="193.8" stroke="#444" stroke-width="0.9"/>
<line x1="119.5" y1="191" x2="119.5" y2="193.8" stroke="#444" stroke-width="0.9"/>
<line x1="125.5" y1="191" x2="125.5" y2="195.0" stroke="#444" stroke-width="0.9"/>
<text transform="translate(125.70,202.10) scale(0.93,1)" font-size="6.3" text-anchor="middle" fill="#1a1a1a" font-family="'Liberation Sans', Arial, sans-serif" stroke="#1a1a1a" stroke-width="0.1">8</text>
<line x1="131.5" y1="191" x2="131.5" y2="193.8" stroke="#444" stroke-width="0.9"/>
<line x1="138.5" y1="191" x2="138.5" y2="193.8" stroke="#444" stroke-width="0.9"/>
<line x1="144.5" y1="191" x2="144.5" y2="193.8" stroke="#444" stroke-width="0.9"/>
<line x1="150.5" y1="191" x2="150.5" y2="195.0" stroke="#444" stroke-width="0.9"/>
<text transform="translate(150.30,202.10) scale(0.93,1)" font-size="6.3" text-anchor="middle" fill="#1a1a1a" font-family="'Liberation Sans', Arial, sans-serif" stroke="#1a1a1a" stroke-width="0.1">10</text>
<line x1="156.5" y1="191" x2="156.5" y2="193.8" stroke="#444" stroke-width="0.9"/>
<line x1="162.5" y1="191" x2="162.5" y2="193.8" stroke="#444" stroke-width="0.9"/>
<line x1="168.5" y1="191" x2="168.5" y2="193.8" stroke="#444" stroke-width="0.9"/>
<line x1="174.5" y1="191" x2="174.5" y2="195.0" stroke="#444" stroke-width="0.9"/>
<text transform="translate(175.00,202.10) scale(0.93,1)" font-size="6.3" text-anchor="middle" fill="#1a1a1a" font-family="'Liberation Sans', Arial, sans-serif" stroke="#1a1a1a" stroke-width="0.1">12</text>
<line x1="181.5" y1="191" x2="181.5" y2="193.8" stroke="#444" stroke-width="0.9"/>
<line x1="187.5" y1="191" x2="187.5" y2="193.8" stroke="#444" stroke-width="0.9"/>
<line x1="193.5" y1="191" x2="193.5" y2="193.8" stroke="#444" stroke-width="0.9"/>
<line x1="199.5" y1="191" x2="199.5" y2="195.0" stroke="#444" stroke-width="0.9"/>
<text transform="translate(199.60,202.10) scale(0.93,1)" font-size="6.3" text-anchor="middle" fill="#1a1a1a" font-family="'Liberation Sans', Arial, sans-serif" stroke="#1a1a1a" stroke-width="0.1">14</text>
<line x1="205.5" y1="191" x2="205.5" y2="193.8" stroke="#444" stroke-width="0.9"/>
<line x1="211.5" y1="191" x2="211.5" y2="193.8" stroke="#444" stroke-width="0.9"/>
<line x1="218.5" y1="191" x2="218.5" y2="193.8" stroke="#444" stroke-width="0.9"/>
<line x1="224.5" y1="191" x2="224.5" y2="195.0" stroke="#444" stroke-width="0.9"/>
<text transform="translate(224.30,202.10) scale(0.93,1)" font-size="6.3" text-anchor="middle" fill="#1a1a1a" font-family="'Liberation Sans', Arial, sans-serif" stroke="#1a1a1a" stroke-width="0.1">16</text>
<line x1="230.5" y1="191" x2="230.5" y2="193.8" stroke="#444" stroke-width="0.9"/>
<line x1="236.5" y1="191" x2="236.5" y2="193.8" stroke="#444" stroke-width="0.9"/>
<line x1="242.5" y1="191" x2="242.5" y2="193.8" stroke="#444" stroke-width="0.9"/>
<line x1="248.5" y1="191" x2="248.5" y2="195.0" stroke="#444" stroke-width="0.9"/>
<text transform="translate(248.90,202.10) scale(0.93,1)" font-size="6.3" text-anchor="middle" fill="#1a1a1a" font-family="'Liberation Sans', Arial, sans-serif" stroke="#1a1a1a" stroke-width="0.1">18</text>
<line x1="255.5" y1="191" x2="255.5" y2="193.8" stroke="#444" stroke-width="0.9"/>
<line x1="261.5" y1="191" x2="261.5" y2="193.8" stroke="#444" stroke-width="0.9"/>
<line x1="267.5" y1="191" x2="267.5" y2="193.8" stroke="#444" stroke-width="0.9"/>
<line x1="273.5" y1="191" x2="273.5" y2="195.0" stroke="#444" stroke-width="0.9"/>
<text transform="translate(273.60,202.10) scale(0.93,1)" font-size="6.3" text-anchor="middle" fill="#1a1a1a" font-family="'Liberation Sans', Arial, sans-serif" stroke="#1a1a1a" stroke-width="0.1">20</text>
<line x1="279.5" y1="191" x2="279.5" y2="193.8" stroke="#444" stroke-width="0.9"/>
<line x1="285.5" y1="191" x2="285.5" y2="193.8" stroke="#444" stroke-width="0.9"/>
<line x1="292.5" y1="191" x2="292.5" y2="193.8" stroke="#444" stroke-width="0.9"/>
<line x1="298.5" y1="191" x2="298.5" y2="195.0" stroke="#444" stroke-width="0.9"/>
<text transform="translate(298.20,202.10) scale(0.93,1)" font-size="6.3" text-anchor="middle" fill="#1a1a1a" font-family="'Liberation Sans', Arial, sans-serif" stroke="#1a1a1a" stroke-width="0.1">22</text>
<line x1="304.5" y1="191" x2="304.5" y2="193.8" stroke="#444" stroke-width="0.9"/>
<line x1="310.5" y1="191" x2="310.5" y2="193.8" stroke="#444" stroke-width="0.9"/>
<line x1="316.5" y1="191" x2="316.5" y2="193.8" stroke="#444" stroke-width="0.9"/>
<line x1="322.5" y1="191" x2="322.5" y2="195.0" stroke="#444" stroke-width="0.9"/>
<text transform="translate(322.90,202.10) scale(0.93,1)" font-size="6.3" text-anchor="middle" fill="#1a1a1a" font-family="'Liberation Sans', Arial, sans-serif" stroke="#1a1a1a" stroke-width="0.1">24</text>
<line x1="329.5" y1="191" x2="329.5" y2="193.8" stroke="#444" stroke-width="0.9"/>
<line x1="335.5" y1="191" x2="335.5" y2="193.8" stroke="#444" stroke-width="0.9"/>
<line x1="341.5" y1="191" x2="341.5" y2="193.8" stroke="#444" stroke-width="0.9"/>
<line x1="347.5" y1="191" x2="347.5" y2="195.0" stroke="#444" stroke-width="0.9"/>
<text transform="translate(347.50,202.10) scale(0.93,1)" font-size="6.3" text-anchor="middle" fill="#1a1a1a" font-family="'Liberation Sans', Arial, sans-serif" stroke="#1a1a1a" stroke-width="0.1">26</text>
<line x1="353.5" y1="191" x2="353.5" y2="193.8" stroke="#444" stroke-width="0.9"/>
<line x1="359.5" y1="191" x2="359.5" y2="193.8" stroke="#444" stroke-width="0.9"/>
<line x1="365.5" y1="191" x2="365.5" y2="193.8" stroke="#444" stroke-width="0.9"/>
<line x1="372.5" y1="191" x2="372.5" y2="195.0" stroke="#444" stroke-width="0.9"/>
<text transform="translate(372.10,202.10) scale(0.93,1)" font-size="6.3" text-anchor="middle" fill="#1a1a1a" font-family="'Liberation Sans', Arial, sans-serif" stroke="#1a1a1a" stroke-width="0.1">28</text>
<line x1="378.5" y1="191" x2="378.5" y2="193.8" stroke="#444" stroke-width="0.9"/>
<line x1="384.5" y1="191" x2="384.5" y2="193.8" stroke="#444" stroke-width="0.9"/>
<line x1="390.5" y1="191" x2="390.5" y2="193.8" stroke="#444" stroke-width="0.9"/>
<line x1="396.5" y1="191" x2="396.5" y2="195.0" stroke="#444" stroke-width="0.9"/>
<text transform="translate(396.80,202.10) scale(0.93,1)" font-size="6.3" text-anchor="middle" fill="#1a1a1a" font-family="'Liberation Sans', Arial, sans-serif" stroke="#1a1a1a" stroke-width="0.1">30</text>
<line x1="402.5" y1="191" x2="402.5" y2="193.8" stroke="#444" stroke-width="0.9"/>
<line x1="409.5" y1="191" x2="409.5" y2="193.8" stroke="#444" stroke-width="0.9"/>
<line x1="415.5" y1="191" x2="415.5" y2="193.8" stroke="#444" stroke-width="0.9"/>
<line x1="421.5" y1="191" x2="421.5" y2="195.0" stroke="#444" stroke-width="0.9"/>
<text transform="translate(421.40,202.10) scale(0.93,1)" font-size="6.3" text-anchor="middle" fill="#1a1a1a" font-family="'Liberation Sans', Arial, sans-serif" stroke="#1a1a1a" stroke-width="0.1">32</text>
<line x1="427.5" y1="191" x2="427.5" y2="193.8" stroke="#444" stroke-width="0.9"/>
<line x1="433.5" y1="191" x2="433.5" y2="193.8" stroke="#444" stroke-width="0.9"/>
<line x1="439.5" y1="191" x2="439.5" y2="193.8" stroke="#444" stroke-width="0.9"/>
<line x1="446.5" y1="191" x2="446.5" y2="195.0" stroke="#444" stroke-width="0.9"/>
<text transform="translate(446.10,202.10) scale(0.93,1)" font-size="6.3" text-anchor="middle" fill="#1a1a1a" font-family="'Liberation Sans', Arial, sans-serif" stroke="#1a1a1a" stroke-width="0.1">34</text>
<line x1="452.5" y1="191" x2="452.5" y2="193.8" stroke="#444" stroke-width="0.9"/>
<line x1="458.5" y1="191" x2="458.5" y2="193.8" stroke="#444" stroke-width="0.9"/>
<line x1="464.5" y1="191" x2="464.5" y2="193.8" stroke="#444" stroke-width="0.9"/>
<line x1="470.5" y1="191" x2="470.5" y2="195.0" stroke="#444" stroke-width="0.9"/>
<text transform="translate(470.70,202.10) scale(0.93,1)" font-size="6.3" text-anchor="middle" fill="#1a1a1a" font-family="'Liberation Sans', Arial, sans-serif" stroke="#1a1a1a" stroke-width="0.1">36</text>
<line x1="476.5" y1="191" x2="476.5" y2="193.8" stroke="#444" stroke-width="0.9"/>
<line x1="483.5" y1="191" x2="483.5" y2="193.8" stroke="#444" stroke-width="0.9"/>
<line x1="489.5" y1="191" x2="489.5" y2="193.8" stroke="#444" stroke-width="0.9"/>
<line x1="495.5" y1="191" x2="495.5" y2="195.0" stroke="#444" stroke-width="0.9"/>
<text transform="translate(495.40,202.10) scale(0.93,1)" font-size="6.3" text-anchor="middle" fill="#1a1a1a" font-family="'Liberation Sans', Arial, sans-serif" stroke="#1a1a1a" stroke-width="0.1">38</text>
<line x1="501.5" y1="191" x2="501.5" y2="193.8" stroke="#444" stroke-width="0.9"/>
<line x1="507.5" y1="191" x2="507.5" y2="193.8" stroke="#444" stroke-width="0.9"/>
<line x1="513.5" y1="191" x2="513.5" y2="193.8" stroke="#444" stroke-width="0.9"/>
<line x1="520.5" y1="191" x2="520.5" y2="195.0" stroke="#444" stroke-width="0.9"/>
<text transform="translate(520.00,202.10) scale(0.93,1)" font-size="6.3" text-anchor="middle" fill="#1a1a1a" font-family="'Liberation Sans', Arial, sans-serif" stroke="#1a1a1a" stroke-width="0.1">40</text>
<line x1="526.5" y1="191" x2="526.5" y2="193.8" stroke="#444" stroke-width="0.9"/>
<line x1="532.5" y1="191" x2="532.5" y2="193.8" stroke="#444" stroke-width="0.9"/>
<line x1="538.5" y1="191" x2="538.5" y2="193.8" stroke="#444" stroke-width="0.9"/>
<line x1="544.5" y1="191" x2="544.5" y2="195.0" stroke="#444" stroke-width="0.9"/>
<text transform="translate(544.70,202.10) scale(0.93,1)" font-size="6.3" text-anchor="middle" fill="#1a1a1a" font-family="'Liberation Sans', Arial, sans-serif" stroke="#1a1a1a" stroke-width="0.1">42</text>
<line x1="550.5" y1="191" x2="550.5" y2="193.8" stroke="#444" stroke-width="0.9"/>
<line x1="556.5" y1="191" x2="556.5" y2="193.8" stroke="#444" stroke-width="0.9"/>
<line x1="563.5" y1="191" x2="563.5" y2="193.8" stroke="#444" stroke-width="0.9"/>
<line x1="569.5" y1="191" x2="569.5" y2="195.0" stroke="#444" stroke-width="0.9"/>
<text transform="translate(569.30,202.10) scale(0.93,1)" font-size="6.3" text-anchor="middle" fill="#1a1a1a" font-family="'Liberation Sans', Arial, sans-serif" stroke="#1a1a1a" stroke-width="0.1">44</text>
<line x1="575.5" y1="191" x2="575.5" y2="193.8" stroke="#444" stroke-width="0.9"/>
<line x1="581.5" y1="191" x2="581.5" y2="193.8" stroke="#444" stroke-width="0.9"/>
<line x1="587.5" y1="191" x2="587.5" y2="193.8" stroke="#444" stroke-width="0.9"/>
<line x1="593.5" y1="191" x2="593.5" y2="195.0" stroke="#444" stroke-width="0.9"/>
<text transform="translate(594.00,202.10) scale(0.93,1)" font-size="6.3" text-anchor="middle" fill="#1a1a1a" font-family="'Liberation Sans', Arial, sans-serif" stroke="#1a1a1a" stroke-width="0.1">46</text>
<line x1="600.5" y1="191" x2="600.5" y2="193.8" stroke="#444" stroke-width="0.9"/>
<line x1="606.5" y1="191" x2="606.5" y2="193.8" stroke="#444" stroke-width="0.9"/>
<line x1="612.5" y1="191" x2="612.5" y2="193.8" stroke="#444" stroke-width="0.9"/>
<line x1="618.5" y1="191" x2="618.5" y2="195.0" stroke="#444" stroke-width="0.9"/>
<text transform="translate(618.60,202.10) scale(0.93,1)" font-size="6.3" text-anchor="middle" fill="#1a1a1a" font-family="'Liberation Sans', Arial, sans-serif" stroke="#1a1a1a" stroke-width="0.1">48</text>
<line x1="624.5" y1="191" x2="624.5" y2="193.8" stroke="#444" stroke-width="0.9"/>
<line x1="630.5" y1="191" x2="630.5" y2="193.8" stroke="#444" stroke-width="0.9"/>
<line x1="637.5" y1="191" x2="637.5" y2="193.8" stroke="#444" stroke-width="0.9"/>
<line x1="643.5" y1="191" x2="643.5" y2="195.0" stroke="#444" stroke-width="0.9"/>
<text transform="translate(643.20,202.10) scale(0.93,1)" font-size="6.3" text-anchor="middle" fill="#1a1a1a" font-family="'Liberation Sans', Arial, sans-serif" stroke="#1a1a1a" stroke-width="0.1">50</text>
<line x1="649.5" y1="191" x2="649.5" y2="193.8" stroke="#444" stroke-width="0.9"/>
<line x1="655.5" y1="191" x2="655.5" y2="193.8" stroke="#444" stroke-width="0.9"/>
<line x1="661.5" y1="191" x2="661.5" y2="193.8" stroke="#444" stroke-width="0.9"/>
<line x1="667.5" y1="191" x2="667.5" y2="195.0" stroke="#444" stroke-width="0.9"/>
<text transform="translate(667.90,202.10) scale(0.93,1)" font-size="6.3" text-anchor="middle" fill="#1a1a1a" font-family="'Liberation Sans', Arial, sans-serif" stroke="#1a1a1a" stroke-width="0.1">52</text>
<line x1="674.5" y1="191" x2="674.5" y2="193.8" stroke="#444" stroke-width="0.9"/>
<line x1="680.5" y1="191" x2="680.5" y2="193.8" stroke="#444" stroke-width="0.9"/>
<line x1="686.5" y1="191" x2="686.5" y2="193.8" stroke="#444" stroke-width="0.9"/>
<line x1="692.5" y1="191" x2="692.5" y2="195.0" stroke="#444" stroke-width="0.9"/>
<text transform="translate(692.50,202.10) scale(0.93,1)" font-size="6.3" text-anchor="middle" fill="#1a1a1a" font-family="'Liberation Sans', Arial, sans-serif" stroke="#1a1a1a" stroke-width="0.1">54</text>
<line x1="698.5" y1="191" x2="698.5" y2="193.8" stroke="#444" stroke-width="0.9"/>
<line x1="704.5" y1="191" x2="704.5" y2="193.8" stroke="#444" stroke-width="0.9"/>
<line x1="711.5" y1="191" x2="711.5" y2="193.8" stroke="#444" stroke-width="0.9"/>
<line x1="717.5" y1="191" x2="717.5" y2="195.0" stroke="#444" stroke-width="0.9"/>
<text transform="translate(717.20,202.10) scale(0.93,1)" font-size="6.3" text-anchor="middle" fill="#1a1a1a" font-family="'Liberation Sans', Arial, sans-serif" stroke="#1a1a1a" stroke-width="0.1">56</text>
<line x1="723.5" y1="191" x2="723.5" y2="193.8" stroke="#444" stroke-width="0.9"/>
<line x1="729.5" y1="191" x2="729.5" y2="193.8" stroke="#444" stroke-width="0.9"/>
<line x1="735.5" y1="191" x2="735.5" y2="193.8" stroke="#444" stroke-width="0.9"/>
<line x1="741.5" y1="191" x2="741.5" y2="195.0" stroke="#444" stroke-width="0.9"/>
<text transform="translate(741.80,202.10) scale(0.93,1)" font-size="6.3" text-anchor="middle" fill="#1a1a1a" font-family="'Liberation Sans', Arial, sans-serif" stroke="#1a1a1a" stroke-width="0.1">58</text>
<line x1="747.5" y1="191" x2="747.5" y2="193.8" stroke="#444" stroke-width="0.9"/>
<line x1="754.5" y1="191" x2="754.5" y2="193.8" stroke="#444" stroke-width="0.9"/>
<line x1="760.5" y1="191" x2="760.5" y2="193.8" stroke="#444" stroke-width="0.9"/>
<line x1="766.5" y1="191" x2="766.5" y2="195.0" stroke="#444" stroke-width="0.9"/>
<text transform="translate(766.50,202.10) scale(0.93,1)" font-size="6.3" text-anchor="middle" fill="#1a1a1a" font-family="'Liberation Sans', Arial, sans-serif" stroke="#1a1a1a" stroke-width="0.1">60</text>
<text transform="translate(397.00,210.20) scale(0.93,1)" font-size="6.3" text-anchor="middle" fill="#1a1a1a" font-family="'Liberation Sans', Arial, sans-serif" stroke="#1a1a1a" stroke-width="0.1">Time (min)</text>
<text transform="translate(11.3,115.6) rotate(-90) scale(0.93,1)" font-size="6.3" text-anchor="middle" fill="#1a1a1a" font-family="'Liberation Sans', Arial, sans-serif" stroke="#1a1a1a" stroke-width="0.1">Relative Abundance</text>
<text transform="translate(767.00,39.40) scale(0.93,1)" font-size="6.3" fill="#1a1a1a" font-family="'Liberation Sans', Arial, sans-serif" xml:space="preserve" stroke="#1a1a1a" stroke-width="0.1">NL:</text>
<text transform="translate(767.00,47.00) scale(0.93,1)" font-size="6.3" fill="#1a1a1a" font-family="'Liberation Sans', Arial, sans-serif" xml:space="preserve" stroke="#1a1a1a" stroke-width="0.1">4.33E10</text>
<text transform="translate(767.00,55.50) scale(0.93,1)" font-size="6.3" fill="#1a1a1a" font-family="'Liberation Sans', Arial, sans-serif" xml:space="preserve" stroke="#1a1a1a" stroke-width="0.1">TIC  MS</text>
<text transform="translate(767.00,62.90) scale(0.93,1)" font-size="6.3" fill="#1a1a1a" font-family="'Liberation Sans', Arial, sans-serif" xml:space="preserve" stroke="#1a1a1a" stroke-width="0.1">MS2023101</text>
<text transform="translate(767.00,70.50) scale(0.93,1)" font-size="6.3" fill="#1a1a1a" font-family="'Liberation Sans', Arial, sans-serif" xml:space="preserve" stroke="#1a1a1a" stroke-width="0.1">2-TMT-MIX-</text>
<text transform="translate(767.00,77.80) scale(0.93,1)" font-size="6.3" fill="#1a1a1a" font-family="'Liberation Sans', Arial, sans-serif" xml:space="preserve" stroke="#1a1a1a" stroke-width="0.1">TEST</text>
<rect x="791.6" y="26.2" width="8.4" height="8.6" fill="#d9d9d9"/>
<rect x="792.6" y="30" width="3" height="0.9" fill="#333"/>
<rect x="795.3" y="27.8" width="0.9" height="5.2" fill="#333"/>
<rect x="796.2" y="29.8" width="2.6" height="2" fill="#333"/>
<line x1="28.5" y1="160.3" x2="33" y2="158.2" stroke="#86c886" stroke-width="0.7"/>
<line x1="34.4" y1="162" x2="50" y2="160.3" stroke="#86c886" stroke-width="0.7"/>
<line x1="50.6" y1="168.6" x2="65.4" y2="167.1" stroke="#86c886" stroke-width="0.7"/>
<line x1="137.1" y1="142.6" x2="148.1" y2="141.3" stroke="#86c886" stroke-width="0.7"/>
<line x1="142.6" y1="150.1" x2="149.8" y2="149" stroke="#86c886" stroke-width="0.7"/>
<line x1="167.4" y1="161.3" x2="178.4" y2="162.6" stroke="#86c886" stroke-width="0.7"/>
<line x1="200.5" y1="72.3" x2="209.7" y2="71.1" stroke="#86c886" stroke-width="0.7"/>
<line x1="200.9" y1="81.5" x2="210.3" y2="80.2" stroke="#86c886" stroke-width="0.7"/>
<line x1="210.9" y1="60.7" x2="221.9" y2="61.9" stroke="#86c886" stroke-width="0.7"/>
<line x1="229" y1="44.2" x2="239.6" y2="43" stroke="#86c886" stroke-width="0.7"/>
<line x1="230.5" y1="54" x2="239" y2="53" stroke="#86c886" stroke-width="0.7"/>
<line x1="240.8" y1="61.9" x2="244.5" y2="60.7" stroke="#86c886" stroke-width="0.7"/>
<line x1="319.3" y1="95.5" x2="322" y2="94.5" stroke="#86c886" stroke-width="0.7"/>
<line x1="346.6" y1="119" x2="352" y2="115.3" stroke="#86c886" stroke-width="0.7"/>
<line x1="363.4" y1="123.9" x2="372" y2="119.2" stroke="#86c886" stroke-width="0.7"/>
<line x1="369.3" y1="129.8" x2="374" y2="127.6" stroke="#86c886" stroke-width="0.7"/>
<line x1="378.1" y1="144.5" x2="384" y2="143.6" stroke="#86c886" stroke-width="0.7"/>
<line x1="385.7" y1="151.1" x2="389" y2="150.5" stroke="#86c886" stroke-width="0.7"/>
<line x1="410.1" y1="136" x2="414" y2="133.3" stroke="#86c886" stroke-width="0.7"/>
<line x1="454.7" y1="136" x2="458" y2="134.1" stroke="#86c886" stroke-width="0.7"/>
<line x1="471" y1="123.5" x2="481.6" y2="123.7" stroke="#86c886" stroke-width="0.7"/>
<line x1="571" y1="145.5" x2="580" y2="145" stroke="#86c886" stroke-width="0.7"/>
<line x1="589.8" y1="153.7" x2="597" y2="151.9" stroke="#86c886" stroke-width="0.7"/>
<line x1="601.9" y1="159.6" x2="605" y2="159.1" stroke="#86c886" stroke-width="0.7"/>
<line x1="614" y1="168" x2="622.2" y2="170.7" stroke="#86c886" stroke-width="0.7"/>
<line x1="659.4" y1="159" x2="670" y2="157.2" stroke="#86c886" stroke-width="0.7"/>
<line x1="685.4" y1="160.9" x2="690" y2="160.5" stroke="#86c886" stroke-width="0.7"/>
<line x1="699.1" y1="170.7" x2="701" y2="169.3" stroke="#86c886" stroke-width="0.7"/>
<line x1="738" y1="174.2" x2="743.2" y2="175.6" stroke="#86c886" stroke-width="0.7"/>
<line x1="756" y1="174.2" x2="762.1" y2="175.6" stroke="#86c886" stroke-width="0.7"/>
<text transform="translate(35.30,157.60) scale(0.93,1)" font-size="6.3" text-anchor="middle" fill="#1a1a1a" font-family="'Liberation Sans', Arial, sans-serif" stroke="#1a1a1a" stroke-width="0.1">0.25</text>
<text transform="translate(51.00,160.30) scale(0.93,1)" font-size="6.3" text-anchor="middle" fill="#1a1a1a" font-family="'Liberation Sans', Arial, sans-serif" stroke="#1a1a1a" stroke-width="0.1">0.60</text>
<text transform="translate(67.20,166.60) scale(0.93,1)" font-size="6.3" text-anchor="middle" fill="#1a1a1a" font-family="'Liberation Sans', Arial, sans-serif" stroke="#1a1a1a" stroke-width="0.1">1.92</text>
<text transform="translate(88.20,151.00) scale(0.93,1)" font-size="6.3" text-anchor="middle" fill="#1a1a1a" font-family="'Liberation Sans', Arial, sans-serif" stroke="#1a1a1a" stroke-width="0.1">4.95</text>
<text transform="translate(108.30,151.00) scale(0.93,1)" font-size="6.3" text-anchor="middle" fill="#1a1a1a" font-family="'Liberation Sans', Arial, sans-serif" stroke="#1a1a1a" stroke-width="0.1">6.62</text>
<text transform="translate(122.30,162.00) scale(0.93,1)" font-size="6.3" text-anchor="middle" fill="#1a1a1a" font-family="'Liberation Sans', Arial, sans-serif" stroke="#1a1a1a" stroke-width="0.1">7.76</text>
<text transform="translate(133.70,135.60) scale(0.93,1)" font-size="6.3" text-anchor="middle" fill="#1a1a1a" font-family="'Liberation Sans', Arial, sans-serif" stroke="#1a1a1a" stroke-width="0.1">8.68</text>
<text transform="translate(148.90,140.60) scale(0.93,1)" font-size="6.3" text-anchor="middle" fill="#1a1a1a" font-family="'Liberation Sans', Arial, sans-serif" stroke="#1a1a1a" stroke-width="0.1">8.89</text>
<text transform="translate(149.50,148.30) scale(0.93,1)" font-size="6.3" text-anchor="middle" fill="#1a1a1a" font-family="'Liberation Sans', Arial, sans-serif" stroke="#1a1a1a" stroke-width="0.1">9.33</text>
<text transform="translate(168.30,160.60) scale(0.93,1)" font-size="6.3" text-anchor="middle" fill="#1a1a1a" font-family="'Liberation Sans', Arial, sans-serif" stroke="#1a1a1a" stroke-width="0.1">12.25</text>
<text transform="translate(180.80,149.60) scale(0.93,1)" font-size="6.3" text-anchor="middle" fill="#1a1a1a" font-family="'Liberation Sans', Arial, sans-serif" stroke="#1a1a1a" stroke-width="0.1">12.46</text>
<text transform="translate(193.10,62.10) scale(0.93,1)" font-size="6.3" text-anchor="middle" fill="#1a1a1a" font-family="'Liberation Sans', Arial, sans-serif" stroke="#1a1a1a" stroke-width="0.1">13.55</text>
<text transform="translate(210.00,70.80) scale(0.93,1)" font-size="6.3" text-anchor="middle" fill="#1a1a1a" font-family="'Liberation Sans', Arial, sans-serif" stroke="#1a1a1a" stroke-width="0.1">14.03</text>
<text transform="translate(210.30,79.80) scale(0.93,1)" font-size="6.3" text-anchor="middle" fill="#1a1a1a" font-family="'Liberation Sans', Arial, sans-serif" stroke="#1a1a1a" stroke-width="0.1">14.11</text>
<text transform="translate(212.00,60.60) scale(0.93,1)" font-size="6.3" text-anchor="middle" fill="#1a1a1a" font-family="'Liberation Sans', Arial, sans-serif" stroke="#1a1a1a" stroke-width="0.1">15.79</text>
<text transform="translate(223.80,40.00) scale(0.93,1)" font-size="6.3" text-anchor="middle" fill="#1a1a1a" font-family="'Liberation Sans', Arial, sans-serif" stroke="#1a1a1a" stroke-width="0.1">15.96</text>
<text transform="translate(242.50,42.60) scale(0.93,1)" font-size="6.3" text-anchor="middle" fill="#1a1a1a" font-family="'Liberation Sans', Arial, sans-serif" stroke="#1a1a1a" stroke-width="0.1">16.35</text>
<text transform="translate(239.50,52.40) scale(0.93,1)" font-size="6.3" text-anchor="middle" fill="#1a1a1a" font-family="'Liberation Sans', Arial, sans-serif" stroke="#1a1a1a" stroke-width="0.1">16.42</text>
<text transform="translate(246.90,60.60) scale(0.93,1)" font-size="6.3" text-anchor="middle" fill="#1a1a1a" font-family="'Liberation Sans', Arial, sans-serif" stroke="#1a1a1a" stroke-width="0.1">17.36</text>
<text transform="translate(262.00,74.20) scale(0.93,1)" font-size="6.3" text-anchor="middle" fill="#1a1a1a" font-family="'Liberation Sans', Arial, sans-serif" stroke="#1a1a1a" stroke-width="0.1">19.03</text>
<text transform="translate(283.40,86.80) scale(0.93,1)" font-size="6.3" text-anchor="middle" fill="#1a1a1a" font-family="'Liberation Sans', Arial, sans-serif" stroke="#1a1a1a" stroke-width="0.1">20.78</text>
<text transform="translate(298.50,103.20) scale(0.93,1)" font-size="6.3" text-anchor="middle" fill="#1a1a1a" font-family="'Liberation Sans', Arial, sans-serif" stroke="#1a1a1a" stroke-width="0.1">22.01</text>
<text transform="translate(312.70,78.70) scale(0.93,1)" font-size="6.3" text-anchor="middle" fill="#1a1a1a" font-family="'Liberation Sans', Arial, sans-serif" stroke="#1a1a1a" stroke-width="0.1">23.20</text>
<text transform="translate(323.90,94.30) scale(0.93,1)" font-size="6.3" text-anchor="middle" fill="#1a1a1a" font-family="'Liberation Sans', Arial, sans-serif" stroke="#1a1a1a" stroke-width="0.1">23.75</text>
<text transform="translate(343.20,105.50) scale(0.93,1)" font-size="6.3" text-anchor="middle" fill="#1a1a1a" font-family="'Liberation Sans', Arial, sans-serif" stroke="#1a1a1a" stroke-width="0.1">25.66</text>
<text transform="translate(353.40,114.90) scale(0.93,1)" font-size="6.3" text-anchor="middle" fill="#1a1a1a" font-family="'Liberation Sans', Arial, sans-serif" stroke="#1a1a1a" stroke-width="0.1">25.93</text>
<text transform="translate(372.70,118.80) scale(0.93,1)" font-size="6.3" text-anchor="middle" fill="#1a1a1a" font-family="'Liberation Sans', Arial, sans-serif" stroke="#1a1a1a" stroke-width="0.1">27.29</text>
<text transform="translate(376.10,127.20) scale(0.93,1)" font-size="6.3" text-anchor="middle" fill="#1a1a1a" font-family="'Liberation Sans', Arial, sans-serif" stroke="#1a1a1a" stroke-width="0.1">27.77</text>
<text transform="translate(384.80,143.20) scale(0.93,1)" font-size="6.3" text-anchor="middle" fill="#1a1a1a" font-family="'Liberation Sans', Arial, sans-serif" stroke="#1a1a1a" stroke-width="0.1">28.48</text>
<text transform="translate(390.20,150.10) scale(0.93,1)" font-size="6.3" text-anchor="middle" fill="#1a1a1a" font-family="'Liberation Sans', Arial, sans-serif" stroke="#1a1a1a" stroke-width="0.1">29.10</text>
<text transform="translate(405.00,116.70) scale(0.93,1)" font-size="6.3" text-anchor="middle" fill="#1a1a1a" font-family="'Liberation Sans', Arial, sans-serif" stroke="#1a1a1a" stroke-width="0.1">30.67</text>
<text transform="translate(416.90,132.90) scale(0.93,1)" font-size="6.3" text-anchor="middle" fill="#1a1a1a" font-family="'Liberation Sans', Arial, sans-serif" stroke="#1a1a1a" stroke-width="0.1">31.08</text>
<text transform="translate(439.60,132.90) scale(0.93,1)" font-size="6.3" text-anchor="middle" fill="#1a1a1a" font-family="'Liberation Sans', Arial, sans-serif" stroke="#1a1a1a" stroke-width="0.1">33.48</text>
<text transform="translate(459.00,133.70) scale(0.93,1)" font-size="6.3" text-anchor="middle" fill="#1a1a1a" font-family="'Liberation Sans', Arial, sans-serif" stroke="#1a1a1a" stroke-width="0.1">34.70</text>
<text transform="translate(466.60,145.10) scale(0.93,1)" font-size="6.3" text-anchor="middle" fill="#1a1a1a" font-family="'Liberation Sans', Arial, sans-serif" stroke="#1a1a1a" stroke-width="0.1">35.66</text>
<text transform="translate(472.00,123.10) scale(0.93,1)" font-size="6.3" text-anchor="middle" fill="#1a1a1a" font-family="'Liberation Sans', Arial, sans-serif" stroke="#1a1a1a" stroke-width="0.1">36.90</text>
<text transform="translate(490.50,120.20) scale(0.93,1)" font-size="6.3" text-anchor="middle" fill="#1a1a1a" font-family="'Liberation Sans', Arial, sans-serif" stroke="#1a1a1a" stroke-width="0.1">37.58</text>
<text transform="translate(502.80,143.10) scale(0.93,1)" font-size="6.3" text-anchor="middle" fill="#1a1a1a" font-family="'Liberation Sans', Arial, sans-serif" stroke="#1a1a1a" stroke-width="0.1">38.60</text>
<text transform="translate(514.00,81.70) scale(0.93,1)" font-size="6.3" text-anchor="middle" fill="#1a1a1a" font-family="'Liberation Sans', Arial, sans-serif" stroke="#1a1a1a" stroke-width="0.1">39.49</text>
<text transform="translate(529.10,94.40) scale(0.93,1)" font-size="6.3" text-anchor="middle" fill="#1a1a1a" font-family="'Liberation Sans', Arial, sans-serif" stroke="#1a1a1a" stroke-width="0.1">40.75</text>
<text transform="translate(547.00,110.40) scale(0.93,1)" font-size="6.3" text-anchor="middle" fill="#1a1a1a" font-family="'Liberation Sans', Arial, sans-serif" stroke="#1a1a1a" stroke-width="0.1">42.16</text>
<text transform="translate(557.60,125.90) scale(0.93,1)" font-size="6.3" text-anchor="middle" fill="#1a1a1a" font-family="'Liberation Sans', Arial, sans-serif" stroke="#1a1a1a" stroke-width="0.1">43.09</text>
<text transform="translate(568.00,136.20) scale(0.93,1)" font-size="6.3" text-anchor="middle" fill="#1a1a1a" font-family="'Liberation Sans', Arial, sans-serif" stroke="#1a1a1a" stroke-width="0.1">43.94</text>
<text transform="translate(579.30,145.10) scale(0.93,1)" font-size="6.3" text-anchor="middle" fill="#1a1a1a" font-family="'Liberation Sans', Arial, sans-serif" stroke="#1a1a1a" stroke-width="0.1">44.05</text>
<text transform="translate(598.00,151.50) scale(0.93,1)" font-size="6.3" text-anchor="middle" fill="#1a1a1a" font-family="'Liberation Sans', Arial, sans-serif" stroke="#1a1a1a" stroke-width="0.1">45.66</text>
<text transform="translate(605.50,158.70) scale(0.93,1)" font-size="6.3" text-anchor="middle" fill="#1a1a1a" font-family="'Liberation Sans', Arial, sans-serif" stroke="#1a1a1a" stroke-width="0.1">46.64</text>
<text transform="translate(616.30,167.60) scale(0.93,1)" font-size="6.3" text-anchor="middle" fill="#1a1a1a" font-family="'Liberation Sans', Arial, sans-serif" stroke="#1a1a1a" stroke-width="0.1">48.29</text>
<text transform="translate(635.00,166.40) scale(0.93,1)" font-size="6.3" text-anchor="middle" fill="#1a1a1a" font-family="'Liberation Sans', Arial, sans-serif" stroke="#1a1a1a" stroke-width="0.1">49.35</text>
<text transform="translate(653.30,153.20) scale(0.93,1)" font-size="6.3" text-anchor="middle" fill="#1a1a1a" font-family="'Liberation Sans', Arial, sans-serif" stroke="#1a1a1a" stroke-width="0.1">50.79</text>
<text transform="translate(671.40,156.80) scale(0.93,1)" font-size="6.3" text-anchor="middle" fill="#1a1a1a" font-family="'Liberation Sans', Arial, sans-serif" stroke="#1a1a1a" stroke-width="0.1">51.26</text>
<text transform="translate(691.60,160.10) scale(0.93,1)" font-size="6.3" text-anchor="middle" fill="#1a1a1a" font-family="'Liberation Sans', Arial, sans-serif" stroke="#1a1a1a" stroke-width="0.1">53.42</text>
<text transform="translate(702.00,168.90) scale(0.93,1)" font-size="6.3" text-anchor="middle" fill="#1a1a1a" font-family="'Liberation Sans', Arial, sans-serif" stroke="#1a1a1a" stroke-width="0.1">54.53</text>
<text transform="translate(716.50,141.50) scale(0.93,1)" font-size="6.3" text-anchor="middle" fill="#1a1a1a" font-family="'Liberation Sans', Arial, sans-serif" stroke="#1a1a1a" stroke-width="0.1">55.93</text>
<text transform="translate(731.30,182.20) scale(0.93,1)" font-size="6.3" text-anchor="middle" fill="#1a1a1a" font-family="'Liberation Sans', Arial, sans-serif" stroke="#1a1a1a" stroke-width="0.1">57.17</text>
<text transform="translate(739.00,173.80) scale(0.93,1)" font-size="6.3" text-anchor="middle" fill="#1a1a1a" font-family="'Liberation Sans', Arial, sans-serif" stroke="#1a1a1a" stroke-width="0.1">58.11</text>
<text transform="translate(758.00,173.80) scale(0.93,1)" font-size="6.3" text-anchor="middle" fill="#1a1a1a" font-family="'Liberation Sans', Arial, sans-serif" stroke="#1a1a1a" stroke-width="0.1">59.64</text>
<text x="3.8" y="226.8" font-size="6.6" textLength="75.95" lengthAdjust="spacingAndGlyphs" fill="#30309a" font-family="'Liberation Sans', Arial, sans-serif" stroke="#30309a" stroke-width="0.1">MS20231012-TMT-MIX-TEST</text>
<text x="82.0" y="226.8" font-size="6.6" textLength="19.00" lengthAdjust="spacingAndGlyphs" fill="#30309a" font-family="'Liberation Sans', Arial, sans-serif" stroke="#30309a" stroke-width="0.1">#27165</text>
<text x="106.2" y="226.8" font-size="6.6" textLength="8.40" lengthAdjust="spacingAndGlyphs" fill="#333" font-family="'Liberation Sans', Arial, sans-serif" stroke="#333" stroke-width="0.1">RT:</text>
<text x="117.8" y="226.8" font-size="6.6" textLength="14.20" lengthAdjust="spacingAndGlyphs" fill="#30309a" font-family="'Liberation Sans', Arial, sans-serif" stroke="#30309a" stroke-width="0.1">40.31</text>
<text x="137" y="226.8" font-size="6.6" textLength="10.00" lengthAdjust="spacingAndGlyphs" fill="#333" font-family="'Liberation Sans', Arial, sans-serif" stroke="#333" stroke-width="0.1">AV:</text>
<text x="150.5" y="226.8" font-size="6.6" textLength="2.10" lengthAdjust="spacingAndGlyphs" fill="#30309a" font-family="'Liberation Sans', Arial, sans-serif" stroke="#30309a" stroke-width="0.1">1</text>
<text x="157.2" y="226.8" font-size="6.6" textLength="8.80" lengthAdjust="spacingAndGlyphs" fill="#333" font-family="'Liberation Sans', Arial, sans-serif" stroke="#333" stroke-width="0.1">NL:</text>
<text x="169" y="226.8" font-size="6.6" textLength="18.80" lengthAdjust="spacingAndGlyphs" fill="#30309a" font-family="'Liberation Sans', Arial, sans-serif" stroke="#30309a" stroke-width="0.1">2.21E7</text>
<text x="3.7" y="234.3" font-size="6.5" textLength="4.2" lengthAdjust="spacingAndGlyphs" fill="#333" font-family="'Liberation Sans', Arial, sans-serif" stroke="#333" stroke-width="0.1">T:</text>
<text x="10.4" y="234.3" font-size="6.5" textLength="126.3" lengthAdjust="spacingAndGlyphs" fill="#30309a" font-family="'Liberation Sans', Arial, sans-serif" stroke="#30309a" stroke-width="0.1">FTMS + c NSI d Full ms2 723.9365@hcd36.00</text>
<text x="138.7" y="234.3" font-size="6.5" textLength="56.9" lengthAdjust="spacingAndGlyphs" fill="#30309a" font-family="'Liberation Sans', Arial, sans-serif" stroke="#30309a" stroke-width="0.1">[110.0000-1497.5444]</text>
<rect x="28.2" y="235.6" width="771" height="149.8" fill="#f0f0f0" stroke="#dcdcdc" stroke-width="0.8"/>
<line x1="27.6" y1="243" x2="27.6" y2="385.7" stroke="#555" stroke-width="0.9"/>
<line x1="27.2" y1="385.6" x2="789.3" y2="385.6" stroke="#333" stroke-width="1"/>
<line x1="23.6" y1="385.30" x2="27.6" y2="385.30" stroke="#444" stroke-width="0.9"/>
<text transform="translate(23.10,387.30) scale(0.93,1)" font-size="6.3" text-anchor="end" fill="#1a1a1a" font-family="'Liberation Sans', Arial, sans-serif" stroke="#1a1a1a" stroke-width="0.1">0</text>
<line x1="25.0" y1="382.47" x2="27.6" y2="382.47" stroke="#444" stroke-width="0.9"/>
<line x1="25.0" y1="379.64" x2="27.6" y2="379.64" stroke="#444" stroke-width="0.9"/>
<line x1="25.0" y1="376.80" x2="27.6" y2="376.80" stroke="#444" stroke-width="0.9"/>
<line x1="25.0" y1="373.97" x2="27.6" y2="373.97" stroke="#444" stroke-width="0.9"/>
<line x1="23.6" y1="371.14" x2="27.6" y2="371.14" stroke="#444" stroke-width="0.9"/>
<text transform="translate(23.10,373.10) scale(0.93,1)" font-size="6.3" text-anchor="end" fill="#1a1a1a" font-family="'Liberation Sans', Arial, sans-serif" stroke="#1a1a1a" stroke-width="0.1">10</text>
<line x1="25.0" y1="368.31" x2="27.6" y2="368.31" stroke="#444" stroke-width="0.9"/>
<line x1="25.0" y1="365.48" x2="27.6" y2="365.48" stroke="#444" stroke-width="0.9"/>
<line x1="25.0" y1="362.64" x2="27.6" y2="362.64" stroke="#444" stroke-width="0.9"/>
<line x1="25.0" y1="359.81" x2="27.6" y2="359.81" stroke="#444" stroke-width="0.9"/>
<line x1="23.6" y1="356.98" x2="27.6" y2="356.98" stroke="#444" stroke-width="0.9"/>
<text transform="translate(23.10,359.00) scale(0.93,1)" font-size="6.3" text-anchor="end" fill="#1a1a1a" font-family="'Liberation Sans', Arial, sans-serif" stroke="#1a1a1a" stroke-width="0.1">20</text>
<line x1="25.0" y1="354.15" x2="27.6" y2="354.15" stroke="#444" stroke-width="0.9"/>
<line x1="25.0" y1="351.32" x2="27.6" y2="351.32" stroke="#444" stroke-width="0.9"/>
<line x1="25.0" y1="348.48" x2="27.6" y2="348.48" stroke="#444" stroke-width="0.9"/>
<line x1="25.0" y1="345.65" x2="27.6" y2="345.65" stroke="#444" stroke-width="0.9"/>
<line x1="23.6" y1="342.82" x2="27.6" y2="342.82" stroke="#444" stroke-width="0.9"/>
<text transform="translate(23.10,344.80) scale(0.93,1)" font-size="6.3" text-anchor="end" fill="#1a1a1a" font-family="'Liberation Sans', Arial, sans-serif" stroke="#1a1a1a" stroke-width="0.1">30</text>
<line x1="25.0" y1="339.99" x2="27.6" y2="339.99" stroke="#444" stroke-width="0.9"/>
<line x1="25.0" y1="337.16" x2="27.6" y2="337.16" stroke="#444" stroke-width="0.9"/>
<line x1="25.0" y1="334.32" x2="27.6" y2="334.32" stroke="#444" stroke-width="0.9"/>
<line x1="25.0" y1="331.49" x2="27.6" y2="331.49" stroke="#444" stroke-width="0.9"/>
<line x1="23.6" y1="328.66" x2="27.6" y2="328.66" stroke="#444" stroke-width="0.9"/>
<text transform="translate(23.10,330.70) scale(0.93,1)" font-size="6.3" text-anchor="end" fill="#1a1a1a" font-family="'Liberation Sans', Arial, sans-serif" stroke="#1a1a1a" stroke-width="0.1">40</text>
<line x1="25.0" y1="325.83" x2="27.6" y2="325.83" stroke="#444" stroke-width="0.9"/>
<line x1="25.0" y1="323.00" x2="27.6" y2="323.00" stroke="#444" stroke-width="0.9"/>
<line x1="25.0" y1="320.16" x2="27.6" y2="320.16" stroke="#444" stroke-width="0.9"/>
<line x1="25.0" y1="317.33" x2="27.6" y2="317.33" stroke="#444" stroke-width="0.9"/>
<line x1="23.6" y1="314.50" x2="27.6" y2="314.50" stroke="#444" stroke-width="0.9"/>
<text transform="translate(23.10,316.50) scale(0.93,1)" font-size="6.3" text-anchor="end" fill="#1a1a1a" font-family="'Liberation Sans', Arial, sans-serif" stroke="#1a1a1a" stroke-width="0.1">50</text>
<line x1="25.0" y1="311.67" x2="27.6" y2="311.67" stroke="#444" stroke-width="0.9"/>
<line x1="25.0" y1="308.84" x2="27.6" y2="308.84" stroke="#444" stroke-width="0.9"/>
<line x1="25.0" y1="306.00" x2="27.6" y2="306.00" stroke="#444" stroke-width="0.9"/>
<line x1="25.0" y1="303.17" x2="27.6" y2="303.17" stroke="#444" stroke-width="0.9"/>
<line x1="23.6" y1="300.34" x2="27.6" y2="300.34" stroke="#444" stroke-width="0.9"/>
<text transform="translate(23.10,302.30) scale(0.93,1)" font-size="6.3" text-anchor="end" fill="#1a1a1a" font-family="'Liberation Sans', Arial, sans-serif" stroke="#1a1a1a" stroke-width="0.1">60</text>
<line x1="25.0" y1="297.51" x2="27.6" y2="297.51" stroke="#444" stroke-width="0.9"/>
<line x1="25.0" y1="294.68" x2="27.6" y2="294.68" stroke="#444" stroke-width="0.9"/>
<line x1="25.0" y1="291.84" x2="27.6" y2="291.84" stroke="#444" stroke-width="0.9"/>
<line x1="25.0" y1="289.01" x2="27.6" y2="289.01" stroke="#444" stroke-width="0.9"/>
<line x1="23.6" y1="286.18" x2="27.6" y2="286.18" stroke="#444" stroke-width="0.9"/>
<text transform="translate(23.10,288.20) scale(0.93,1)" font-size="6.3" text-anchor="end" fill="#1a1a1a" font-family="'Liberation Sans', Arial, sans-serif" stroke="#1a1a1a" stroke-width="0.1">70</text>
<line x1="25.0" y1="283.35" x2="27.6" y2="283.35" stroke="#444" stroke-width="0.9"/>
<line x1="25.0" y1="280.52" x2="27.6" y2="280.52" stroke="#444" stroke-width="0.9"/>
<line x1="25.0" y1="277.68" x2="27.6" y2="277.68" stroke="#444" stroke-width="0.9"/>
<line x1="25.0" y1="274.85" x2="27.6" y2="274.85" stroke="#444" stroke-width="0.9"/>
<line x1="23.6" y1="272.02" x2="27.6" y2="272.02" stroke="#444" stroke-width="0.9"/>
<text transform="translate(23.10,274.00) scale(0.93,1)" font-size="6.3" text-anchor="end" fill="#1a1a1a" font-family="'Liberation Sans', Arial, sans-serif" stroke="#1a1a1a" stroke-width="0.1">80</text>
<line x1="25.0" y1="269.19" x2="27.6" y2="269.19" stroke="#444" stroke-width="0.9"/>
<line x1="25.0" y1="266.36" x2="27.6" y2="266.36" stroke="#444" stroke-width="0.9"/>
<line x1="25.0" y1="263.52" x2="27.6" y2="263.52" stroke="#444" stroke-width="0.9"/>
<line x1="25.0" y1="260.69" x2="27.6" y2="260.69" stroke="#444" stroke-width="0.9"/>
<line x1="23.6" y1="257.86" x2="27.6" y2="257.86" stroke="#444" stroke-width="0.9"/>
<text transform="translate(23.10,259.90) scale(0.93,1)" font-size="6.3" text-anchor="end" fill="#1a1a1a" font-family="'Liberation Sans', Arial, sans-serif" stroke="#1a1a1a" stroke-width="0.1">90</text>
<line x1="25.0" y1="255.03" x2="27.6" y2="255.03" stroke="#444" stroke-width="0.9"/>
<line x1="25.0" y1="252.20" x2="27.6" y2="252.20" stroke="#444" stroke-width="0.9"/>
<line x1="25.0" y1="249.36" x2="27.6" y2="249.36" stroke="#444" stroke-width="0.9"/>
<line x1="25.0" y1="246.53" x2="27.6" y2="246.53" stroke="#444" stroke-width="0.9"/>
<line x1="23.6" y1="243.70" x2="27.6" y2="243.70" stroke="#444" stroke-width="0.9"/>
<text transform="translate(23.10,245.70) scale(0.93,1)" font-size="6.3" text-anchor="end" fill="#1a1a1a" font-family="'Liberation Sans', Arial, sans-serif" stroke="#1a1a1a" stroke-width="0.1">100</text>
<line x1="27.5" y1="386" x2="27.5" y2="388.0" stroke="#444" stroke-width="0.9"/>
<line x1="32.5" y1="386" x2="32.5" y2="388.0" stroke="#444" stroke-width="0.9"/>
<line x1="38.5" y1="386" x2="38.5" y2="388.0" stroke="#444" stroke-width="0.9"/>
<line x1="43.5" y1="386" x2="43.5" y2="388.0" stroke="#444" stroke-width="0.9"/>
<line x1="49.5" y1="386" x2="49.5" y2="389.4" stroke="#444" stroke-width="0.9"/>
<text transform="translate(49.00,395.80) scale(0.93,1)" font-size="6.3" text-anchor="middle" fill="#1a1a1a" font-family="'Liberation Sans', Arial, sans-serif" stroke="#1a1a1a" stroke-width="0.1">150</text>
<line x1="54.5" y1="386" x2="54.5" y2="388.0" stroke="#444" stroke-width="0.9"/>
<line x1="60.5" y1="386" x2="60.5" y2="388.0" stroke="#444" stroke-width="0.9"/>
<line x1="65.5" y1="386" x2="65.5" y2="388.0" stroke="#444" stroke-width="0.9"/>
<line x1="71.5" y1="386" x2="71.5" y2="388.0" stroke="#444" stroke-width="0.9"/>
<line x1="76.5" y1="386" x2="76.5" y2="389.4" stroke="#444" stroke-width="0.9"/>
<text transform="translate(76.50,395.80) scale(0.93,1)" font-size="6.3" text-anchor="middle" fill="#1a1a1a" font-family="'Liberation Sans', Arial, sans-serif" stroke="#1a1a1a" stroke-width="0.1">200</text>
<line x1="82.5" y1="386" x2="82.5" y2="388.0" stroke="#444" stroke-width="0.9"/>
<line x1="87.5" y1="386" x2="87.5" y2="388.0" stroke="#444" stroke-width="0.9"/>
<line x1="93.5" y1="386" x2="93.5" y2="388.0" stroke="#444" stroke-width="0.9"/>
<line x1="98.5" y1="386" x2="98.5" y2="388.0" stroke="#444" stroke-width="0.9"/>
<line x1="104.5" y1="386" x2="104.5" y2="389.4" stroke="#444" stroke-width="0.9"/>
<text transform="translate(104.00,395.80) scale(0.93,1)" font-size="6.3" text-anchor="middle" fill="#1a1a1a" font-family="'Liberation Sans', Arial, sans-serif" stroke="#1a1a1a" stroke-width="0.1">250</text>
<line x1="109.5" y1="386" x2="109.5" y2="388.0" stroke="#444" stroke-width="0.9"/>
<line x1="115.5" y1="386" x2="115.5" y2="388.0" stroke="#444" stroke-width="0.9"/>
<line x1="120.5" y1="386" x2="120.5" y2="388.0" stroke="#444" stroke-width="0.9"/>
<line x1="126.5" y1="386" x2="126.5" y2="388.0" stroke="#444" stroke-width="0.9"/>
<line x1="131.5" y1="386" x2="131.5" y2="389.4" stroke="#444" stroke-width="0.9"/>
<text transform="translate(131.50,395.80) scale(0.93,1)" font-size="6.3" text-anchor="middle" fill="#1a1a1a" font-family="'Liberation Sans', Arial, sans-serif" stroke="#1a1a1a" stroke-width="0.1">300</text>
<line x1="137.5" y1="386" x2="137.5" y2="388.0" stroke="#444" stroke-width="0.9"/>
<line x1="142.5" y1="386" x2="142.5" y2="388.0" stroke="#444" stroke-width="0.9"/>
<line x1="148.5" y1="386" x2="148.5" y2="388.0" stroke="#444" stroke-width="0.9"/>
<line x1="153.5" y1="386" x2="153.5" y2="388.0" stroke="#444" stroke-width="0.9"/>
<line x1="159.5" y1="386" x2="159.5" y2="389.4" stroke="#444" stroke-width="0.9"/>
<text transform="translate(159.00,395.80) scale(0.93,1)" font-size="6.3" text-anchor="middle" fill="#1a1a1a" font-family="'Liberation Sans', Arial, sans-serif" stroke="#1a1a1a" stroke-width="0.1">350</text>
<line x1="164.5" y1="386" x2="164.5" y2="388.0" stroke="#444" stroke-width="0.9"/>
<line x1="170.5" y1="386" x2="170.5" y2="388.0" stroke="#444" stroke-width="0.9"/>
<line x1="175.5" y1="386" x2="175.5" y2="388.0" stroke="#444" stroke-width="0.9"/>
<line x1="181.5" y1="386" x2="181.5" y2="388.0" stroke="#444" stroke-width="0.9"/>
<line x1="186.5" y1="386" x2="186.5" y2="389.4" stroke="#444" stroke-width="0.9"/>
<text transform="translate(186.50,395.80) scale(0.93,1)" font-size="6.3" text-anchor="middle" fill="#1a1a1a" font-family="'Liberation Sans', Arial, sans-serif" stroke="#1a1a1a" stroke-width="0.1">400</text>
<line x1="192.5" y1="386" x2="192.5" y2="388.0" stroke="#444" stroke-width="0.9"/>
<line x1="197.5" y1="386" x2="197.5" y2="388.0" stroke="#444" stroke-width="0.9"/>
<line x1="203.5" y1="386" x2="203.5" y2="388.0" stroke="#444" stroke-width="0.9"/>
<line x1="208.5" y1="386" x2="208.5" y2="388.0" stroke="#444" stroke-width="0.9"/>
<line x1="214.5" y1="386" x2="214.5" y2="389.4" stroke="#444" stroke-width="0.9"/>
<text transform="translate(214.00,395.80) scale(0.93,1)" font-size="6.3" text-anchor="middle" fill="#1a1a1a" font-family="'Liberation Sans', Arial, sans-serif" stroke="#1a1a1a" stroke-width="0.1">450</text>
<line x1="219.5" y1="386" x2="219.5" y2="388.0" stroke="#444" stroke-width="0.9"/>
<line x1="225.5" y1="386" x2="225.5" y2="388.0" stroke="#444" stroke-width="0.9"/>
<line x1="230.5" y1="386" x2="230.5" y2="388.0" stroke="#444" stroke-width="0.9"/>
<line x1="236.5" y1="386" x2="236.5" y2="388.0" stroke="#444" stroke-width="0.9"/>
<line x1="241.5" y1="386" x2="241.5" y2="389.4" stroke="#444" stroke-width="0.9"/>
<text transform="translate(241.50,395.80) scale(0.93,1)" font-size="6.3" text-anchor="middle" fill="#1a1a1a" font-family="'Liberation Sans', Arial, sans-serif" stroke="#1a1a1a" stroke-width="0.1">500</text>
<line x1="247.5" y1="386" x2="247.5" y2="388.0" stroke="#444" stroke-width="0.9"/>
<line x1="252.5" y1="386" x2="252.5" y2="388.0" stroke="#444" stroke-width="0.9"/>
<line x1="258.5" y1="386" x2="258.5" y2="388.0" stroke="#444" stroke-width="0.9"/>
<line x1="263.5" y1="386" x2="263.5" y2="388.0" stroke="#444" stroke-width="0.9"/>
<line x1="269.5" y1="386" x2="269.5" y2="389.4" stroke="#444" stroke-width="0.9"/>
<text transform="translate(269.00,395.80) scale(0.93,1)" font-size="6.3" text-anchor="middle" fill="#1a1a1a" font-family="'Liberation Sans', Arial, sans-serif" stroke="#1a1a1a" stroke-width="0.1">550</text>
<line x1="274.5" y1="386" x2="274.5" y2="388.0" stroke="#444" stroke-width="0.9"/>
<line x1="280.5" y1="386" x2="280.5" y2="388.0" stroke="#444" stroke-width="0.9"/>
<line x1="285.5" y1="386" x2="285.5" y2="388.0" stroke="#444" stroke-width="0.9"/>
<line x1="291.5" y1="386" x2="291.5" y2="388.0" stroke="#444" stroke-width="0.9"/>
<line x1="296.5" y1="386" x2="296.5" y2="389.4" stroke="#444" stroke-width="0.9"/>
<text transform="translate(296.50,395.80) scale(0.93,1)" font-size="6.3" text-anchor="middle" fill="#1a1a1a" font-family="'Liberation Sans', Arial, sans-serif" stroke="#1a1a1a" stroke-width="0.1">600</text>
<line x1="302.5" y1="386" x2="302.5" y2="388.0" stroke="#444" stroke-width="0.9"/>
<line x1="307.5" y1="386" x2="307.5" y2="388.0" stroke="#444" stroke-width="0.9"/>
<line x1="313.5" y1="386" x2="313.5" y2="388.0" stroke="#444" stroke-width="0.9"/>
<line x1="318.5" y1="386" x2="318.5" y2="388.0" stroke="#444" stroke-width="0.9"/>
<line x1="324.5" y1="386" x2="324.5" y2="389.4" stroke="#444" stroke-width="0.9"/>
<text transform="translate(324.00,395.80) scale(0.93,1)" font-size="6.3" text-anchor="middle" fill="#1a1a1a" font-family="'Liberation Sans', Arial, sans-serif" stroke="#1a1a1a" stroke-width="0.1">650</text>
<line x1="329.5" y1="386" x2="329.5" y2="388.0" stroke="#444" stroke-width="0.9"/>
<line x1="335.5" y1="386" x2="335.5" y2="388.0" stroke="#444" stroke-width="0.9"/>
<line x1="340.5" y1="386" x2="340.5" y2="388.0" stroke="#444" stroke-width="0.9"/>
<line x1="346.5" y1="386" x2="346.5" y2="388.0" stroke="#444" stroke-width="0.9"/>
<line x1="351.5" y1="386" x2="351.5" y2="389.4" stroke="#444" stroke-width="0.9"/>
<text transform="translate(351.50,395.80) scale(0.93,1)" font-size="6.3" text-anchor="middle" fill="#1a1a1a" font-family="'Liberation Sans', Arial, sans-serif" stroke="#1a1a1a" stroke-width="0.1">700</text>
<line x1="357.5" y1="386" x2="357.5" y2="388.0" stroke="#444" stroke-width="0.9"/>
<line x1="362.5" y1="386" x2="362.5" y2="388.0" stroke="#444" stroke-width="0.9"/>
<line x1="368.5" y1="386" x2="368.5" y2="388.0" stroke="#444" stroke-width="0.9"/>
<line x1="373.5" y1="386" x2="373.5" y2="388.0" stroke="#444" stroke-width="0.9"/>
<line x1="379.5" y1="386" x2="379.5" y2="389.4" stroke="#444" stroke-width="0.9"/>
<text transform="translate(379.00,395.80) scale(0.93,1)" font-size="6.3" text-anchor="middle" fill="#1a1a1a" font-family="'Liberation Sans', Arial, sans-serif" stroke="#1a1a1a" stroke-width="0.1">750</text>
<line x1="384.5" y1="386" x2="384.5" y2="388.0" stroke="#444" stroke-width="0.9"/>
<line x1="390.5" y1="386" x2="390.5" y2="388.0" stroke="#444" stroke-width="0.9"/>
<line x1="395.5" y1="386" x2="395.5" y2="388.0" stroke="#444" stroke-width="0.9"/>
<line x1="401.5" y1="386" x2="401.5" y2="388.0" stroke="#444" stroke-width="0.9"/>
<line x1="406.5" y1="386" x2="406.5" y2="389.4" stroke="#444" stroke-width="0.9"/>
<text transform="translate(406.50,395.80) scale(0.93,1)" font-size="6.3" text-anchor="middle" fill="#1a1a1a" font-family="'Liberation Sans', Arial, sans-serif" stroke="#1a1a1a" stroke-width="0.1">800</text>
<line x1="412.5" y1="386" x2="412.5" y2="388.0" stroke="#444" stroke-width="0.9"/>
<line x1="417.5" y1="386" x2="417.5" y2="388.0" stroke="#444" stroke-width="0.9"/>
<line x1="423.5" y1="386" x2="423.5" y2="388.0" stroke="#444" stroke-width="0.9"/>
<line x1="428.5" y1="386" x2="428.5" y2="388.0" stroke="#444" stroke-width="0.9"/>
<line x1="434.5" y1="386" x2="434.5" y2="389.4" stroke="#444" stroke-width="0.9"/>
<text transform="translate(434.00,395.80) scale(0.93,1)" font-size="6.3" text-anchor="middle" fill="#1a1a1a" font-family="'Liberation Sans', Arial, sans-serif" stroke="#1a1a1a" stroke-width="0.1">850</text>
<line x1="439.5" y1="386" x2="439.5" y2="388.0" stroke="#444" stroke-width="0.9"/>
<line x1="445.5" y1="386" x2="445.5" y2="388.0" stroke="#444" stroke-width="0.9"/>
<line x1="450.5" y1="386" x2="450.5" y2="388.0" stroke="#444" stroke-width="0.9"/>
<line x1="456.5" y1="386" x2="456.5" y2="388.0" stroke="#444" stroke-width="0.9"/>
<line x1="461.5" y1="386" x2="461.5" y2="389.4" stroke="#444" stroke-width="0.9"/>
<text transform="translate(461.50,395.80) scale(0.93,1)" font-size="6.3" text-anchor="middle" fill="#1a1a1a" font-family="'Liberation Sans', Arial, sans-serif" stroke="#1a1a1a" stroke-width="0.1">900</text>
<line x1="467.5" y1="386" x2="467.5" y2="388.0" stroke="#444" stroke-width="0.9"/>
<line x1="472.5" y1="386" x2="472.5" y2="388.0" stroke="#444" stroke-width="0.9"/>
<line x1="478.5" y1="386" x2="478.5" y2="388.0" stroke="#444" stroke-width="0.9"/>
<line x1="483.5" y1="386" x2="483.5" y2="388.0" stroke="#444" stroke-width="0.9"/>
<line x1="489.5" y1="386" x2="489.5" y2="389.4" stroke="#444" stroke-width="0.9"/>
<text transform="translate(489.00,395.80) scale(0.93,1)" font-size="6.3" text-anchor="middle" fill="#1a1a1a" font-family="'Liberation Sans', Arial, sans-serif" stroke="#1a1a1a" stroke-width="0.1">950</text>
<line x1="494.5" y1="386" x2="494.5" y2="388.0" stroke="#444" stroke-width="0.9"/>
<line x1="500.5" y1="386" x2="500.5" y2="388.0" stroke="#444" stroke-width="0.9"/>
<line x1="505.5" y1="386" x2="505.5" y2="388.0" stroke="#444" stroke-width="0.9"/>
<line x1="511.5" y1="386" x2="511.5" y2="388.0" stroke="#444" stroke-width="0.9"/>
<line x1="516.5" y1="386" x2="516.5" y2="389.4" stroke="#444" stroke-width="0.9"/>
<text transform="translate(516.50,395.80) scale(0.93,1)" font-size="6.3" text-anchor="middle" fill="#1a1a1a" font-family="'Liberation Sans', Arial, sans-serif" stroke="#1a1a1a" stroke-width="0.1">1000</text>
<line x1="522.5" y1="386" x2="522.5" y2="388.0" stroke="#444" stroke-width="0.9"/>
<line x1="527.5" y1="386" x2="527.5" y2="388.0" stroke="#444" stroke-width="0.9"/>
<line x1="533.5" y1="386" x2="533.5" y2="388.0" stroke="#444" stroke-width="0.9"/>
<line x1="538.5" y1="386" x2="538.5" y2="388.0" stroke="#444" stroke-width="0.9"/>
<line x1="544.5" y1="386" x2="544.5" y2="389.4" stroke="#444" stroke-width="0.9"/>
<text transform="translate(544.00,395.80) scale(0.93,1)" font-size="6.3" text-anchor="middle" fill="#1a1a1a" font-family="'Liberation Sans', Arial, sans-serif" stroke="#1a1a1a" stroke-width="0.1">1050</text>
<line x1="549.5" y1="386" x2="549.5" y2="388.0" stroke="#444" stroke-width="0.9"/>
<line x1="555.5" y1="386" x2="555.5" y2="388.0" stroke="#444" stroke-width="0.9"/>
<line x1="560.5" y1="386" x2="560.5" y2="388.0" stroke="#444" stroke-width="0.9"/>
<line x1="566.5" y1="386" x2="566.5" y2="388.0" stroke="#444" stroke-width="0.9"/>
<line x1="571.5" y1="386" x2="571.5" y2="389.4" stroke="#444" stroke-width="0.9"/>
<text transform="translate(571.50,395.80) scale(0.93,1)" font-size="6.3" text-anchor="middle" fill="#1a1a1a" font-family="'Liberation Sans', Arial, sans-serif" stroke="#1a1a1a" stroke-width="0.1">1100</text>
<line x1="577.5" y1="386" x2="577.5" y2="388.0" stroke="#444" stroke-width="0.9"/>
<line x1="582.5" y1="386" x2="582.5" y2="388.0" stroke="#444" stroke-width="0.9"/>
<line x1="588.5" y1="386" x2="588.5" y2="388.0" stroke="#444" stroke-width="0.9"/>
<line x1="593.5" y1="386" x2="593.5" y2="388.0" stroke="#444" stroke-width="0.9"/>
<line x1="599.5" y1="386" x2="599.5" y2="389.4" stroke="#444" stroke-width="0.9"/>
<text transform="translate(599.00,395.80) scale(0.93,1)" font-size="6.3" text-anchor="middle" fill="#1a1a1a" font-family="'Liberation Sans', Arial, sans-serif" stroke="#1a1a1a" stroke-width="0.1">1150</text>
<line x1="604.5" y1="386" x2="604.5" y2="388.0" stroke="#444" stroke-width="0.9"/>
<line x1="610.5" y1="386" x2="610.5" y2="388.0" stroke="#444" stroke-width="0.9"/>
<line x1="615.5" y1="386" x2="615.5" y2="388.0" stroke="#444" stroke-width="0.9"/>
<line x1="621.5" y1="386" x2="621.5" y2="388.0" stroke="#444" stroke-width="0.9"/>
<line x1="626.5" y1="386" x2="626.5" y2="389.4" stroke="#444" stroke-width="0.9"/>
<text transform="translate(626.50,395.80) scale(0.93,1)" font-size="6.3" text-anchor="middle" fill="#1a1a1a" font-family="'Liberation Sans', Arial, sans-serif" stroke="#1a1a1a" stroke-width="0.1">1200</text>
<line x1="632.5" y1="386" x2="632.5" y2="388.0" stroke="#444" stroke-width="0.9"/>
<line x1="637.5" y1="386" x2="637.5" y2="388.0" stroke="#444" stroke-width="0.9"/>
<line x1="643.5" y1="386" x2="643.5" y2="388.0" stroke="#444" stroke-width="0.9"/>
<line x1="648.5" y1="386" x2="648.5" y2="388.0" stroke="#444" stroke-width="0.9"/>
<line x1="654.5" y1="386" x2="654.5" y2="389.4" stroke="#444" stroke-width="0.9"/>
<text transform="translate(654.00,395.80) scale(0.93,1)" font-size="6.3" text-anchor="middle" fill="#1a1a1a" font-family="'Liberation Sans', Arial, sans-serif" stroke="#1a1a1a" stroke-width="0.1">1250</text>
<line x1="659.5" y1="386" x2="659.5" y2="388.0" stroke="#444" stroke-width="0.9"/>
<line x1="665.5" y1="386" x2="665.5" y2="388.0" stroke="#444" stroke-width="0.9"/>
<line x1="670.5" y1="386" x2="670.5" y2="388.0" stroke="#444" stroke-width="0.9"/>
<line x1="676.5" y1="386" x2="676.5" y2="388.0" stroke="#444" stroke-width="0.9"/>
<line x1="681.5" y1="386" x2="681.5" y2="389.4" stroke="#444" stroke-width="0.9"/>
<text transform="translate(681.50,395.80) scale(0.93,1)" font-size="6.3" text-anchor="middle" fill="#1a1a1a" font-family="'Liberation Sans', Arial, sans-serif" stroke="#1a1a1a" stroke-width="0.1">1300</text>
<line x1="687.5" y1="386" x2="687.5" y2="388.0" stroke="#444" stroke-width="0.9"/>
<line x1="692.5" y1="386" x2="692.5" y2="388.0" stroke="#444" stroke-width="0.9"/>
<line x1="698.5" y1="386" x2="698.5" y2="388.0" stroke="#444" stroke-width="0.9"/>
<line x1="703.5" y1="386" x2="703.5" y2="388.0" stroke="#444" stroke-width="0.9"/>
<line x1="709.5" y1="386" x2="709.5" y2="389.4" stroke="#444" stroke-width="0.9"/>
<text transform="translate(709.00,395.80) scale(0.93,1)" font-size="6.3" text-anchor="middle" fill="#1a1a1a" font-family="'Liberation Sans', Arial, sans-serif" stroke="#1a1a1a" stroke-width="0.1">1350</text>
<line x1="714.5" y1="386" x2="714.5" y2="388.0" stroke="#444" stroke-width="0.9"/>
<line x1="720.5" y1="386" x2="720.5" y2="388.0" stroke="#444" stroke-width="0.9"/>
<line x1="725.5" y1="386" x2="725.5" y2="388.0" stroke="#444" stroke-width="0.9"/>
<line x1="731.5" y1="386" x2="731.5" y2="388.0" stroke="#444" stroke-width="0.9"/>
<line x1="736.5" y1="386" x2="736.5" y2="389.4" stroke="#444" stroke-width="0.9"/>
<text transform="translate(736.50,395.80) scale(0.93,1)" font-size="6.3" text-anchor="middle" fill="#1a1a1a" font-family="'Liberation Sans', Arial, sans-serif" stroke="#1a1a1a" stroke-width="0.1">1400</text>
<line x1="742.5" y1="386" x2="742.5" y2="388.0" stroke="#444" stroke-width="0.9"/>
<line x1="747.5" y1="386" x2="747.5" y2="388.0" stroke="#444" stroke-width="0.9"/>
<line x1="753.5" y1="386" x2="753.5" y2="388.0" stroke="#444" stroke-width="0.9"/>
<line x1="758.5" y1="386" x2="758.5" y2="388.0" stroke="#444" stroke-width="0.9"/>
<line x1="764.5" y1="386" x2="764.5" y2="389.4" stroke="#444" stroke-width="0.9"/>
<text transform="translate(764.00,395.80) scale(0.93,1)" font-size="6.3" text-anchor="middle" fill="#1a1a1a" font-family="'Liberation Sans', Arial, sans-serif" stroke="#1a1a1a" stroke-width="0.1">1450</text>
<line x1="769.5" y1="386" x2="769.5" y2="388.0" stroke="#444" stroke-width="0.9"/>
<line x1="775.5" y1="386" x2="775.5" y2="388.0" stroke="#444" stroke-width="0.9"/>
<line x1="780.5" y1="386" x2="780.5" y2="388.0" stroke="#444" stroke-width="0.9"/>
<line x1="786.5" y1="386" x2="786.5" y2="388.0" stroke="#444" stroke-width="0.9"/>
<text transform="translate(408.00,404.60) scale(0.93,1)" font-size="6.3" text-anchor="middle" fill="#1a1a1a" font-family="'Liberation Sans', Arial, sans-serif" stroke="#1a1a1a" stroke-width="0.1">m/z</text>
<text transform="translate(11.2,313.3) rotate(-90) scale(0.93,1)" font-size="6.3" text-anchor="middle" fill="#1a1a1a" font-family="'Liberation Sans', Arial, sans-serif" stroke="#1a1a1a" stroke-width="0.1">Relative Abundance</text>
<line x1="41.3" y1="384.2" x2="41.3" y2="385.3" stroke="#333" stroke-width="0.9"/>
<line x1="37.6" y1="381.1" x2="37.6" y2="385.3" stroke="#333" stroke-width="0.9"/>
<line x1="63.4" y1="384.5" x2="63.4" y2="385.3" stroke="#333" stroke-width="0.9"/>
<line x1="93.1" y1="378.9" x2="93.1" y2="385.3" stroke="#333" stroke-width="0.9"/>
<line x1="134.4" y1="383.9" x2="134.4" y2="385.3" stroke="#333" stroke-width="0.9"/>
<line x1="165.7" y1="384.2" x2="165.7" y2="385.3" stroke="#333" stroke-width="0.9"/>
<line x1="188.9" y1="384.5" x2="188.9" y2="385.3" stroke="#333" stroke-width="0.9"/>
<line x1="214.7" y1="378.9" x2="214.7" y2="385.3" stroke="#333" stroke-width="0.9"/>
<line x1="246.6" y1="383.9" x2="246.6" y2="385.3" stroke="#333" stroke-width="0.9"/>
<line x1="276.9" y1="382.8" x2="276.9" y2="385.3" stroke="#333" stroke-width="0.9"/>
<line x1="294.5" y1="383.6" x2="294.5" y2="385.3" stroke="#333" stroke-width="0.9"/>
<line x1="334.7" y1="384.5" x2="334.7" y2="385.3" stroke="#333" stroke-width="0.9"/>
<line x1="350.1" y1="383.2" x2="350.1" y2="385.3" stroke="#333" stroke-width="0.9"/>
<line x1="379.3" y1="384.2" x2="379.3" y2="385.3" stroke="#333" stroke-width="0.9"/>
<line x1="412.8" y1="384.6" x2="412.8" y2="385.3" stroke="#333" stroke-width="0.9"/>
<line x1="437.0" y1="383.6" x2="437.0" y2="385.3" stroke="#333" stroke-width="0.9"/>
<line x1="452.4" y1="383.6" x2="452.4" y2="385.3" stroke="#333" stroke-width="0.9"/>
<line x1="482.7" y1="384.7" x2="482.7" y2="385.3" stroke="#333" stroke-width="0.9"/>
<line x1="514.6" y1="384.2" x2="514.6" y2="385.3" stroke="#333" stroke-width="0.9"/>
<line x1="549.3" y1="384.7" x2="549.3" y2="385.3" stroke="#333" stroke-width="0.9"/>
<line x1="595.0" y1="384.7" x2="595.0" y2="385.3" stroke="#333" stroke-width="0.9"/>
<line x1="636.2" y1="384.9" x2="636.2" y2="385.3" stroke="#333" stroke-width="0.9"/>
<line x1="675.9" y1="381.1" x2="675.9" y2="385.3" stroke="#333" stroke-width="0.9"/>
<line x1="38.9" y1="243.5" x2="38.9" y2="252" stroke="#a8a8a8" stroke-width="1.5"/>
<line x1="38.9" y1="252" x2="38.9" y2="385.3" stroke="#505050" stroke-width="1.5"/>
<line x1="41.2" y1="385" x2="49.6" y2="372.2" stroke="#8fc08f" stroke-width="0.6"/>
<line x1="425" y1="381.2" x2="437.5" y2="383" stroke="#8fc08f" stroke-width="0.6"/>
<line x1="293" y1="382.5" x2="297" y2="381.5" stroke="#8fc08f" stroke-width="0.6"/>
<line x1="327.5" y1="382.2" x2="335" y2="384" stroke="#8fc08f" stroke-width="0.6"/>
<line x1="406" y1="383" x2="411" y2="382.2" stroke="#8fc08f" stroke-width="0.6"/>
<text transform="translate(37.80,241.00) scale(0.93,1)" font-size="6.3" text-anchor="middle" fill="#1a1a1a" font-family="'Liberation Sans', Arial, sans-serif" stroke="#1a1a1a" stroke-width="0.1">131.14</text>
<text transform="translate(50.20,370.50) scale(0.93,1)" font-size="6.3" text-anchor="middle" fill="#1a1a1a" font-family="'Liberation Sans', Arial, sans-serif" stroke="#1a1a1a" stroke-width="0.1">136.08</text>
<text transform="translate(63.00,380.40) scale(0.93,1)" font-size="6.3" text-anchor="middle" fill="#1a1a1a" font-family="'Liberation Sans', Arial, sans-serif" stroke="#1a1a1a" stroke-width="0.1">176.16</text>
<text transform="translate(92.50,376.10) scale(0.93,1)" font-size="6.3" text-anchor="middle" fill="#1a1a1a" font-family="'Liberation Sans', Arial, sans-serif" stroke="#1a1a1a" stroke-width="0.1">230.17</text>
<text transform="translate(134.30,379.10) scale(0.93,1)" font-size="6.3" text-anchor="middle" fill="#1a1a1a" font-family="'Liberation Sans', Arial, sans-serif" stroke="#1a1a1a" stroke-width="0.1">305.22</text>
<text transform="translate(165.00,380.10) scale(0.93,1)" font-size="6.3" text-anchor="middle" fill="#1a1a1a" font-family="'Liberation Sans', Arial, sans-serif" stroke="#1a1a1a" stroke-width="0.1">362.24</text>
<text transform="translate(188.00,380.60) scale(0.93,1)" font-size="6.3" text-anchor="middle" fill="#1a1a1a" font-family="'Liberation Sans', Arial, sans-serif" stroke="#1a1a1a" stroke-width="0.1">404.28</text>
<text transform="translate(214.30,376.10) scale(0.93,1)" font-size="6.3" text-anchor="middle" fill="#1a1a1a" font-family="'Liberation Sans', Arial, sans-serif" stroke="#1a1a1a" stroke-width="0.1">451.32</text>
<text transform="translate(245.80,380.40) scale(0.93,1)" font-size="6.3" text-anchor="middle" fill="#1a1a1a" font-family="'Liberation Sans', Arial, sans-serif" stroke="#1a1a1a" stroke-width="0.1">509.31</text>
<text transform="translate(276.30,379.10) scale(0.93,1)" font-size="6.3" text-anchor="middle" fill="#1a1a1a" font-family="'Liberation Sans', Arial, sans-serif" stroke="#1a1a1a" stroke-width="0.1">564.41</text>
<text transform="translate(298.30,379.10) scale(0.93,1)" font-size="6.3" text-anchor="middle" fill="#1a1a1a" font-family="'Liberation Sans', Arial, sans-serif" stroke="#1a1a1a" stroke-width="0.1">596.34</text>
<text transform="translate(325.00,381.60) scale(0.93,1)" font-size="6.3" text-anchor="middle" fill="#1a1a1a" font-family="'Liberation Sans', Arial, sans-serif" stroke="#1a1a1a" stroke-width="0.1">669.39</text>
<text transform="translate(350.00,378.60) scale(0.93,1)" font-size="6.3" text-anchor="middle" fill="#1a1a1a" font-family="'Liberation Sans', Arial, sans-serif" stroke="#1a1a1a" stroke-width="0.1">697.39</text>
<text transform="translate(378.80,380.90) scale(0.93,1)" font-size="6.3" text-anchor="middle" fill="#1a1a1a" font-family="'Liberation Sans', Arial, sans-serif" stroke="#1a1a1a" stroke-width="0.1">750.49</text>
<text transform="translate(405.50,382.10) scale(0.93,1)" font-size="6.3" text-anchor="middle" fill="#1a1a1a" font-family="'Liberation Sans', Arial, sans-serif" stroke="#1a1a1a" stroke-width="0.1">811.44</text>
<text transform="translate(429.30,379.10) scale(0.93,1)" font-size="6.3" text-anchor="middle" fill="#1a1a1a" font-family="'Liberation Sans', Arial, sans-serif" stroke="#1a1a1a" stroke-width="0.1">855.47</text>
<text transform="translate(451.30,379.10) scale(0.93,1)" font-size="6.3" text-anchor="middle" fill="#1a1a1a" font-family="'Liberation Sans', Arial, sans-serif" stroke="#1a1a1a" stroke-width="0.1">883.47</text>
<text transform="translate(482.50,381.60) scale(0.93,1)" font-size="6.3" text-anchor="middle" fill="#1a1a1a" font-family="'Liberation Sans', Arial, sans-serif" stroke="#1a1a1a" stroke-width="0.1">938.57</text>
<text transform="translate(514.30,380.40) scale(0.93,1)" font-size="6.3" text-anchor="middle" fill="#1a1a1a" font-family="'Liberation Sans', Arial, sans-serif" stroke="#1a1a1a" stroke-width="0.1">996.55</text>
<text transform="translate(548.80,382.10) scale(0.93,1)" font-size="6.3" text-anchor="middle" fill="#1a1a1a" font-family="'Liberation Sans', Arial, sans-serif" stroke="#1a1a1a" stroke-width="0.1">1059.58</text>
<text transform="translate(594.50,381.60) scale(0.93,1)" font-size="6.3" text-anchor="middle" fill="#1a1a1a" font-family="'Liberation Sans', Arial, sans-serif" stroke="#1a1a1a" stroke-width="0.1">1142.66</text>
<text transform="translate(636.30,381.60) scale(0.93,1)" font-size="6.3" text-anchor="middle" fill="#1a1a1a" font-family="'Liberation Sans', Arial, sans-serif" stroke="#1a1a1a" stroke-width="0.1">1217.70</text>
<text transform="translate(675.00,378.60) scale(0.93,1)" font-size="6.3" text-anchor="middle" fill="#1a1a1a" font-family="'Liberation Sans', Arial, sans-serif" stroke="#1a1a1a" stroke-width="0.1">1289.74</text>
<rect x="791.7" y="220.3" width="8.3" height="8.5" fill="#6bd43c"/>
<ellipse cx="796" cy="224.6" rx="2.6" ry="2.2" fill="#333" transform="rotate(-30 796 224.6)"/>
<ellipse cx="796.6" cy="223.9" rx="1.2" ry="0.8" fill="#bbb" transform="rotate(-30 796.6 223.9)"/>
<circle cx="798.6" cy="272.1" r="9.4" fill="#4a86e8"/>
<path d="M797.9,268.4 L795.9,272.2 L797.9,276" fill="none" stroke="#fff" stroke-width="1.2"/>
<rect x="799" y="236" width="1" height="150" fill="#c8c8c8"/>
</svg>
</body></html>
